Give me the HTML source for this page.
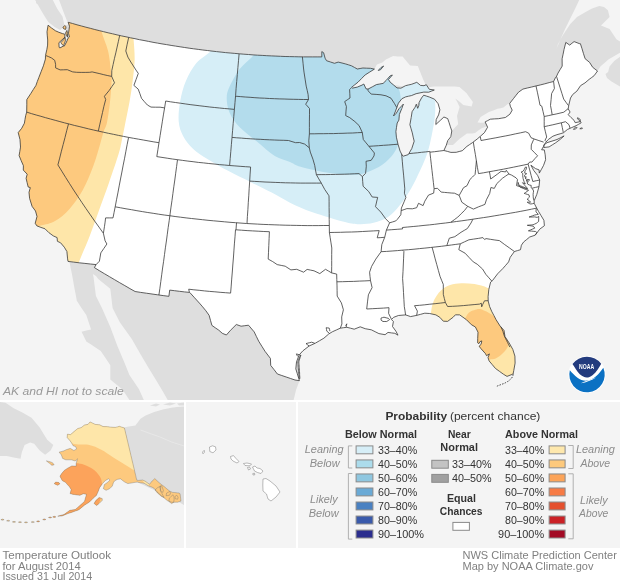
<!DOCTYPE html>
<html><head><meta charset="utf-8"><title>Temperature Outlook for August 2014</title><style>
*{margin:0;padding:0;box-sizing:border-box}
html,body{width:620px;height:585px;background:#fff;overflow:hidden}
body{position:relative;font-family:"Liberation Sans",sans-serif;color:#333}
svg{position:absolute;display:block}
.map{left:0;top:0}
.ak{left:0;top:402px}
.hi{left:186px;top:402px}
.nts{font-family:"Liberation Sans",sans-serif;font-style:italic;font-size:10.75px;fill:#999}
.leg{left:298px;top:402px}
.foot{left:0;top:548px}
svg text{font-family:"Liberation Sans",sans-serif}
.t{position:absolute;white-space:nowrap;line-height:1}
.b{font-weight:bold;color:#333}
.it{font-style:italic;color:#8a8a8a}
.sw{position:absolute;width:18px;height:9px;border:1px solid #8c8c8c}
</style></head>
<body>
<svg class="map" width="620" height="400" viewBox="0 0 620 400">
<defs><clipPath id="usc"><path d="M48.1 25.2L51.4 27.9L55.5 30.8L58.9 32.3L62.5 33.6L64.8 34.2L64.9 37.2L58.9 42.7L59.1 47.1L59.8 48.0L63.3 46.1L64.3 46.1L66.5 42.0L68.1 38.1L69.4 37.0L68.5 33.2L69.0 29.7L69.5 26.2L68.2 22.3L72.6 23.5L77.0 24.8L81.5 26.0L85.9 27.2L90.3 28.3L94.8 29.5L99.2 30.6L103.7 31.7L108.1 32.8L112.6 33.8L117.1 34.9L121.5 35.9L126.0 36.8L130.5 37.8L135.0 38.7L139.5 39.7L144.0 40.5L148.5 41.4L153.0 42.3L157.5 43.1L162.0 43.9L166.5 44.6L171.1 45.4L175.6 46.1L180.1 46.8L184.7 47.5L189.2 48.2L193.7 48.8L198.3 49.4L202.8 50.0L207.4 50.5L212.0 51.1L216.5 51.6L221.1 52.1L225.6 52.6L230.2 53.0L234.8 53.4L239.3 53.8L243.9 54.2L248.5 54.5L253.1 54.9L257.6 55.2L262.2 55.4L266.8 55.7L271.4 55.9L275.9 56.1L280.5 56.3L285.1 56.5L289.7 56.6L294.3 56.7L298.9 56.8L303.5 56.9L308.0 56.9L312.6 56.9L317.2 56.9L321.8 56.9L321.8 51.6L323.6 52.7L325.1 58.2L326.5 60.7L330.5 62.0L334.5 63.3L338.2 62.1L342.0 63.0L345.8 64.0L348.7 64.9L351.5 65.8L354.4 67.4L357.3 69.0L360.1 68.5L362.9 68.0L366.7 68.2L370.5 68.3L374.4 69.1L369.8 72.0L365.2 74.9L361.6 78.5L358.0 82.2L354.7 84.8L351.5 87.4L352.5 88.1L357.3 87.1L362.0 85.1L363.8 84.0L366.0 88.8L368.0 89.1L372.2 86.9L376.4 84.6L379.7 84.0L383.1 83.4L386.2 80.4L390.1 75.9L392.4 75.0L388.5 79.5L390.2 82.2L393.6 85.0L397.0 87.9L400.9 88.2L405.5 85.7L408.3 85.0L411.2 84.4L414.0 83.4L416.8 82.3L420.5 85.4L424.0 85.7L426.3 84.7L429.3 89.3L434.3 90.0L431.5 91.1L428.7 92.2L423.8 92.1L419.9 92.9L416.1 93.7L411.4 95.6L408.5 96.2L405.6 96.9L401.9 98.7L398.4 103.2L396.8 107.6L395.2 111.9L393.5 116.0L396.3 113.2L398.9 108.8L403.4 104.1L401.8 108.5L399.4 114.4L398.9 120.1L397.2 123.0L396.5 127.3L395.9 131.6L396.4 137.2L398.0 144.2L400.1 151.1L402.1 155.1L403.2 156.2L408.3 154.6L411.8 148.5L414.2 141.2L413.2 137.1L412.3 132.9L411.1 128.8L409.9 124.7L411.2 117.5L412.1 111.7L415.1 107.2L416.3 104.2L417.7 108.3L418.9 105.3L419.1 102.5L421.5 98.0L423.7 95.2L426.5 96.1L429.3 97.0L434.5 99.2L438.1 103.7L439.9 109.8L438.6 114.9L436.2 119.5L435.8 124.5L440.3 120.4L443.9 117.0L447.7 118.6L449.1 122.7L450.4 126.8L451.8 130.9L450.8 136.7L447.7 140.7L446.3 145.2L443.9 150.5L447.4 151.4L450.9 152.4L456.2 152.3L459.2 151.5L462.3 150.7L466.9 146.4L469.7 144.5L472.5 142.6L477.2 139.0L480.8 135.9L484.4 132.7L487.6 127.2L485.1 121.9L487.7 120.6L490.3 119.2L494.3 118.9L498.4 118.7L501.9 118.1L505.4 117.5L509.9 114.2L512.2 110.1L510.3 106.2L509.7 103.4L513.7 98.3L516.1 95.2L518.5 92.2L522.9 89.1L527.3 88.0L531.7 87.0L536.1 85.9L540.5 84.9L544.8 83.8L549.2 82.6L553.6 81.5L555.6 77.3L556.5 76.4L558.0 73.1L560.1 69.6L562.2 66.1L562.1 58.8L563.1 54.2L564.0 49.6L565.8 42.4L569.7 45.1L571.9 43.3L574.1 41.6L579.3 43.6L580.4 43.7L582.0 48.7L583.5 53.7L585.1 58.7L589.6 62.4L592.7 67.3L597.5 71.0L594.2 75.6L591.7 77.5L589.1 79.4L585.0 82.9L580.6 85.6L576.9 91.1L572.7 94.5L570.5 98.0L568.8 105.1L568.2 108.9L570.1 112.0L568.2 114.7L571.1 117.6L574.1 120.4L575.2 122.7L580.3 121.6L580.2 119.4L577.6 117.7L577.4 118.8L579.4 120.4L581.2 122.8L578.6 124.3L576.0 125.7L571.2 127.8L567.4 129.5L563.4 132.8L560.1 133.8L556.9 134.7L552.9 136.2L548.3 139.5L545.8 142.3L543.8 145.2L543.5 146.4L541.6 149.8L544.3 149.9L545.2 154.8L545.6 159.7L543.6 165.3L541.5 169.2L539.3 173.1L539.1 169.9L535.5 168.6L530.9 165.2L533.7 170.4L537.6 175.4L539.7 180.0L539.0 186.6L536.8 194.4L534.2 200.7L534.2 203.3L536.7 208.1L538.7 211.7L540.8 215.2L543.9 220.3L544.4 225.7L539.7 229.2L535.2 235.2L529.7 237.0L526.7 239.5L523.7 241.9L521.4 245.2L520.5 249.7L517.5 250.6L514.4 251.5L510.2 257.3L508.6 261.9L505.7 265.3L502.7 268.7L497.6 273.8L492.7 280.3L490.6 282.1L488.8 289.5L488.1 296.7L488.2 301.0L489.6 306.5L491.9 311.8L494.0 315.7L496.0 319.6L500.1 326.1L504.0 330.4L505.0 336.6L509.2 343.0L512.8 349.4L514.9 356.1L515.1 363.1L513.8 370.4L513.1 374.0L507.0 376.4L503.4 374.2L499.4 371.3L495.4 368.4L492.3 364.7L489.1 360.9L488.0 357.6L489.4 353.9L486.5 355.7L485.5 353.7L481.0 348.7L479.1 346.2L481.0 344.5L481.8 340.9L480.0 341.6L478.8 343.7L477.7 342.9L477.7 338.6L478.0 332.2L475.4 327.0L471.4 324.7L466.4 319.7L459.7 314.9L455.4 314.8L453.2 317.2L447.6 321.4L443.3 321.2L439.8 317.3L435.9 314.9L429.7 313.5L424.8 313.2L420.7 314.3L416.5 315.4L410.6 316.6L405.6 314.9L402.0 315.2L398.4 315.5L393.7 317.3L391.4 319.5L393.4 321.5L392.5 326.5L395.9 331.2L398.0 335.2L394.8 333.3L391.4 332.9L388.0 332.4L385.1 334.7L378.9 333.6L375.1 331.7L371.3 329.8L365.2 328.7L360.2 326.8L354.2 329.2L350.5 328.2L346.9 327.3L343.5 327.7L340.2 328.2L336.3 330.0L332.3 331.8L328.7 334.0L323.9 338.2L319.6 340.7L315.3 343.2L309.1 346.0L302.9 350.8L299.1 355.0L296.5 361.9L295.8 368.9L297.3 373.7L298.8 378.6L299.4 380.7L295.0 380.0L290.6 378.5L286.2 377.0L281.8 375.5L277.4 374.0L274.1 369.7L270.7 365.4L270.4 358.4L265.0 351.3L261.8 346.2L258.7 341.2L256.4 336.5L254.2 331.9L248.5 325.2L244.8 325.7L241.1 326.2L236.3 324.5L230.4 330.4L226.4 335.0L222.3 333.3L218.8 330.2L215.3 327.8L211.9 325.4L210.5 320.4L209.1 315.3L205.9 310.8L202.7 306.9L199.4 303.1L194.6 297.8L189.8 292.5L189.4 292.4L184.5 291.9L179.5 291.3L174.6 290.7L169.7 290.1L168.9 296.3L163.2 295.6L157.6 294.8L152.0 294.0L146.3 293.2L140.7 292.4L135.1 291.5L129.9 288.6L124.8 285.6L119.7 282.7L114.6 279.7L109.5 276.7L104.4 273.7L99.4 270.7L94.4 267.6L96.1 264.6L90.5 264.0L84.9 263.4L79.2 262.8L73.6 262.1L68.0 261.4L67.6 258.9L66.9 251.5L64.3 247.2L60.6 242.8L57.4 241.3L57.1 237.6L53.3 235.9L48.8 232.6L45.0 228.8L40.9 227.4L36.9 225.9L35.2 223.3L37.0 216.5L35.5 211.0L32.1 206.4L29.6 198.4L29.0 192.3L30.3 187.6L28.2 187.0L27.1 182.6L26.1 178.3L27.2 174.2L23.3 170.1L23.4 165.7L21.2 160.7L19.1 155.6L19.8 151.4L20.5 147.1L20.0 139.6L18.2 132.6L21.7 128.3L24.4 123.2L25.0 119.4L25.7 115.5L26.7 112.1L26.8 104.8L26.8 99.6L30.8 93.5L33.3 89.5L35.9 85.5L37.3 81.5L38.8 77.6L41.1 71.7L43.4 65.8L45.4 59.1L45.5 55.4L46.9 49.3L47.6 45.1L47.7 40.0L47.3 35.9L47.0 31.8L48.1 25.2ZM543.8 147.5L549.1 146.9L552.4 144.8L555.6 142.8L560.2 139.4L564.1 135.9L559.9 138.1L557.0 139.5L554.0 140.5L551.0 141.4L547.0 142.7L544.2 144.8ZM67.5 37.2L67.0 36.3L66.4 35.4L66.0 34.2L65.6 33.0L66.2 31.8L66.8 30.5L67.1 31.3L67.3 32.1L67.4 33.6L67.5 35.0ZM64.9 37.2L65.3 38.4L65.7 39.6L65.4 40.5L65.2 41.4L64.9 42.2L64.5 43.3L64.0 44.4L63.5 45.5L63.0 45.1L62.4 44.7L61.9 44.3L61.4 43.4L60.9 42.5L61.8 41.6L62.7 40.7L63.7 39.7ZM65.7 29.4L65.1 29.3L64.4 29.1L63.8 28.9L63.4 28.1L62.9 27.2L63.9 26.4L64.8 25.6L65.4 26.1L66.0 26.7ZM573.5 129.4L574.1 128.6L574.7 127.9L575.3 127.1L576.2 127.4L577.1 127.6L576.5 128.2L575.8 128.9ZM579.8 128.7L580.6 128.3L581.5 127.9L582.5 128.3L581.9 128.6L581.2 128.8ZM383.6 66.0L382.9 66.4L382.3 66.8L381.6 67.2L380.9 67.6L380.0 68.5L379.1 69.5L378.3 70.5L379.0 70.2L379.8 70.0L380.6 69.7ZM299.2 378.6L299.1 377.2L299.0 375.8L298.8 374.5L298.7 373.1L298.6 371.7L298.5 370.3L298.3 368.9L298.2 367.5L298.1 366.1L298.0 364.7L297.9 363.3L297.8 361.9L298.3 360.5L298.8 359.1L299.3 357.8L299.9 356.4L300.4 355.0L300.9 355.0L300.5 356.4L300.0 357.8L299.6 359.2L299.2 360.5L298.8 361.9L298.9 363.3L299.0 364.7L299.1 366.1L299.2 367.5L299.3 368.9L299.4 370.3L299.5 371.7L299.6 373.1L299.6 374.5L299.7 375.9L299.8 377.2L299.9 378.6Z"/></clipPath></defs>
<rect width="620" height="400" fill="#dedede"/>
<path d="M-69.8 -226.5L-68.4 -221.8L-66.8 -217.1L-65.3 -212.4L-63.7 -207.7L-62.1 -203.0L-60.4 -198.3L-58.7 -193.5L-57.0 -188.8L-55.3 -184.0L-53.5 -179.3L-51.7 -174.5L-49.8 -169.7L-47.9 -164.9L-46.0 -160.2L-44.0 -155.4L-42.0 -150.6L-40.0 -145.7L-37.9 -140.9L-35.8 -136.1L-33.6 -131.3L-31.4 -126.5L-29.2 -121.6L-27.0 -116.8L-24.7 -112.0L-22.3 -107.1L-19.9 -102.3L-17.5 -97.4L-15.1 -92.6L-12.6 -87.8L-10.0 -82.9L-7.5 -78.1L-4.9 -73.2L-2.2 -68.4L0.5 -63.5L3.2 -58.7L6.0 -53.9L8.8 -49.0L11.6 -44.2L14.5 -39.4L17.5 -34.5L20.4 -29.7L23.4 -24.9L26.5 -20.1L28.9 -13.4L31.4 -6.7L34.4 -1.3L37.5 4.1L40.6 9.4L43.7 14.8L46.0 18.4L48.3 22.1L51.5 24.5L54.7 26.9L57.4 28.5L60.1 30.0L62.0 28.4L66.2 27.4L67.3 32.1L68.5 36.7L66.8 42.8L65.0 48.8L64.6 54.0L64.1 59.2L63.7 64.4L66.5 72.4L69.4 80.5L70.5 88.0L71.6 95.6L72.8 103.2L74.0 110.7L75.2 118.3L76.5 125.9L77.8 133.5L79.2 141.1L80.6 148.7L82.1 156.3L81.7 163.5L81.3 170.6L80.9 177.8L80.5 185.0L80.2 192.2L79.8 199.4L79.5 206.5L79.2 213.7L79.0 220.9L78.7 228.1L78.5 235.3L78.2 242.4L78.0 249.6L73.0 255.5L68.0 261.4L69.6 262.4L70.8 268.4L72.0 274.4L73.2 281.0L74.3 287.6L75.6 294.1L76.8 300.7L81.5 307.9L86.3 315.0L88.7 322.2L91.1 329.4L86.3 330.6L81.5 331.8L83.9 336.6L86.3 341.4L91.1 344.6L95.9 347.8L100.7 350.9L105.5 358.1L110.3 365.3L110.3 370.1L110.3 374.8L110.3 379.6L114.2 382.8L118.2 386.0L122.2 389.2L125.8 394.6L129.4 400.0L131.2 405.0L133.0 410.0L132.7 416.6L132.5 423.3L132.2 429.9L132.0 436.5L131.7 443.1L131.5 449.7L124.6 450.0L117.6 450.3L110.7 450.6L103.8 450.8L96.8 451.0L89.9 451.1L82.9 451.3L76.0 451.3L69.0 451.4L62.0 451.4L55.0 451.3L48.0 451.2L41.0 451.1L34.0 451.0L27.0 450.8L20.0 450.5L13.0 450.3L5.9 450.0L-1.1 449.6L-8.1 449.2L-15.2 448.8L-22.2 448.3L-29.3 447.8L-36.3 447.2L-43.4 446.7L-50.4 446.0L-57.5 445.4L-64.6 444.7L-71.6 443.9L-78.7 443.1L-85.8 442.3L-92.9 441.4L-99.9 440.5L-107.0 439.6L-114.1 438.6L-121.2 437.6L-128.2 436.5L-135.3 435.4L-142.4 434.2L-149.5 433.1L-156.6 431.8L-163.7 430.6L-170.7 429.3L-177.8 427.9L-184.9 426.5L-192.0 425.1L-199.1 423.6L-206.1 422.1L-213.2 420.6L-220.3 419.0L-227.3 417.3L-231.2 408.4L-235.0 399.4L-238.7 390.4L-242.3 381.4L-245.8 372.4L-249.2 363.4L-252.6 354.3L-255.8 345.3L-259.0 336.2L-262.1 327.1L-265.1 318.0L-268.0 308.8L-270.8 299.7L-273.6 290.5L-276.2 281.4L-278.8 272.2L-281.3 263.1L-283.7 253.9L-286.0 244.7L-288.2 235.5L-290.4 226.3L-292.4 217.1L-294.4 207.9L-296.3 198.8L-298.1 189.6L-299.8 180.4L-301.4 171.2L-303.0 162.0L-304.4 152.8L-305.8 143.7ZM597.5 71.0L600.6 66.3L604.7 62.7L608.7 59.2L613.1 56.8L617.4 54.3L621.7 51.8L626.1 49.5L630.5 47.2L634.8 44.8L639.2 42.5L643.5 40.1L647.8 37.7L652.1 35.3L656.4 32.8L660.9 31.0L665.4 29.2L669.9 27.3L674.4 25.4L678.9 23.5L683.4 21.6L687.8 19.6L692.3 17.6L696.7 15.6L701.1 13.6L705.6 11.6L710.0 9.5L714.4 7.4L718.8 5.3L723.1 3.1L727.5 1.0L731.8 -1.2L736.2 -3.4L740.5 -5.7L744.8 -7.9L748.1 -1.7L751.4 4.5L754.6 10.7L757.9 16.9L761.2 23.1L764.5 29.3L767.7 35.6L771.0 41.8L774.3 48.1L777.6 54.3L780.9 60.6L784.2 66.8L787.5 73.1L790.8 79.3L794.1 85.6L797.4 91.8L800.7 98.1L803.9 104.4L807.2 110.6L810.5 116.9L813.8 123.1L817.1 129.4L820.4 135.6L823.7 141.9L827.0 148.1L830.3 154.4L833.6 160.6L836.8 166.8L840.1 173.0L843.4 179.3L846.7 185.5L849.9 191.7L853.2 197.9L856.4 204.1L859.7 210.3L863.0 216.5L866.2 222.6L869.4 228.8L872.7 234.9L875.9 241.1L879.2 247.2L882.4 253.4L885.6 259.5L888.8 265.6L892.0 271.7L895.2 277.8L898.4 283.8L901.6 289.9L904.8 296.0L908.0 302.0L911.2 308.0L914.3 314.0L908.3 317.2L902.3 320.3L896.2 323.4L890.2 326.4L884.1 329.5L878.0 332.4L871.9 335.4L865.8 338.3L859.6 341.2L853.5 344.1L847.3 346.9L841.1 349.7L834.9 352.4L828.7 355.2L822.5 357.9L816.2 360.5L810.0 363.2L803.7 365.8L797.4 368.3L791.1 370.8L784.8 373.3L778.5 375.8L772.1 378.2L765.8 380.6L759.4 383.0L753.1 385.3L746.7 387.6L740.3 389.9L733.9 392.1L727.4 394.3L721.0 396.5L714.6 398.6L708.1 400.7L701.6 402.7L695.2 404.8L688.7 406.8L682.2 408.7L675.7 410.6L669.1 412.5L662.6 414.4L656.1 416.2L649.5 418.0L643.0 419.7L636.4 421.5L629.8 423.1L623.2 424.8L616.7 426.4L610.1 428.0L603.4 429.5L596.8 431.0L590.2 432.5L583.6 433.9L576.9 435.3L570.3 436.7L563.6 438.0L557.0 439.3L550.3 440.6L543.6 441.8L536.9 443.0L530.3 444.2L523.6 445.3L516.9 446.4L510.2 447.5L503.5 448.5L496.7 449.5L490.0 450.4L483.3 451.3L476.6 452.2L469.8 453.0L463.1 453.8L456.3 454.6L449.6 455.3L442.8 456.0L436.1 456.7L429.3 457.3L422.6 457.9L415.8 458.5L409.0 459.0L402.3 459.5L395.5 459.9L388.7 460.3L381.9 460.7L375.2 461.1L368.4 461.4L361.6 461.6L354.8 461.9L348.0 462.1L341.3 462.2L334.5 462.4L327.7 462.5L320.9 462.5L314.1 462.5L307.3 462.5L300.5 462.5L297.9 455.7L295.3 448.8L293.4 441.9L291.5 435.1L291.3 428.2L291.1 421.3L291.9 414.5L292.6 407.6L293.4 400.7L294.8 395.2L296.1 389.7L297.8 385.2L299.4 380.7L298.6 375.0L297.8 369.3L297.0 363.6L296.2 357.9L295.4 352.1L301.7 347.5L307.9 342.9L314.0 338.3L320.2 333.6L326.2 328.9L332.2 324.1L338.2 319.3L344.1 314.5L349.9 309.6L355.7 304.8L361.5 299.8L367.2 294.9L372.9 289.9L378.5 284.9L384.0 279.8L389.6 275.9L395.1 272.0L400.6 268.0L406.1 264.0L411.5 260.0L416.9 256.0L422.3 251.9L427.6 247.8L432.8 243.7L438.1 239.5L443.2 235.4L448.4 231.2L453.5 226.9L458.5 222.7L463.6 218.4L468.5 214.1L473.5 209.8L478.4 205.4L483.2 201.0L488.0 196.7L492.7 191.4L497.2 186.1L501.8 180.7L506.2 175.4L510.6 170.0L515.0 164.6L519.3 159.2L523.6 153.8L527.8 148.4L532.0 142.9L536.1 137.5L540.1 132.0L544.1 126.5L548.1 121.0L552.0 115.5L555.9 110.0L559.5 103.8L563.1 97.6L566.6 91.5L570.1 85.3L573.5 79.1L576.9 72.9L580.2 66.7L583.5 65.7L586.7 64.7ZM425.8 84.8L423.2 79.5L420.5 72.8L417.8 66.1L414.0 65.8L410.1 65.6L406.3 61.1L402.6 56.6L397.8 56.4L393.1 56.1L389.5 57.8L385.9 59.5L382.4 62.6L379.6 63.5L376.9 64.4L374.4 69.1L369.8 72.0L365.2 74.9L361.6 78.5L358.0 82.2L354.7 84.8L351.5 87.4L354.4 88.3L357.4 89.2L362.2 89.7L367.1 90.1L371.8 89.0L376.6 87.8L381.4 86.6L386.1 85.4L390.8 84.2L395.8 85.2L400.7 86.1L405.6 87.0L410.6 87.9L415.1 87.9L419.7 87.9L424.2 87.8ZM423.8 92.1L419.9 92.9L416.1 93.7L411.4 95.6L408.5 96.2L405.6 96.9L401.9 98.7L398.4 103.2L396.8 107.6L395.2 111.9L393.5 116.0L394.3 121.2L395.1 126.4L395.9 131.6L396.4 137.2L398.0 144.2L400.1 151.1L402.1 155.1L403.2 156.2L408.3 154.6L411.8 148.5L414.2 141.2L413.2 137.1L412.3 132.9L411.1 128.8L409.9 124.7L411.2 117.5L412.1 111.7L415.1 107.2L416.3 104.2L419.1 102.5L421.5 98.0L423.7 95.2ZM423.7 95.2L426.5 96.1L429.3 97.0L434.5 99.2L438.1 103.7L439.9 109.8L438.6 114.9L436.2 119.5L435.8 124.5L440.3 120.4L443.9 117.0L447.7 118.6L449.1 122.7L450.4 126.8L451.8 130.9L455.0 127.5L458.2 124.2L457.6 120.0L457.0 115.9L458.3 111.4L459.6 106.9L457.5 102.6L455.3 98.4L459.3 101.6L463.3 104.9L467.5 105.7L471.6 106.4L472.9 101.9L469.6 97.5L466.4 93.0L462.9 90.1L459.5 87.1L454.5 86.5L449.5 86.5L444.6 86.5L439.7 86.5L434.8 86.5L431.9 86.8L429.1 87.2L426.3 84.7L429.3 89.3L434.3 90.0L431.5 91.1L428.7 92.2L423.8 92.1ZM443.9 150.5L447.4 151.4L450.9 152.4L456.2 152.3L459.2 151.5L462.3 150.7L466.9 146.4L469.7 144.5L472.5 142.6L477.2 139.0L480.8 135.9L484.4 132.7L487.6 127.2L486.5 126.6L481.6 128.2L478.3 130.6L475.1 132.9L472.1 133.4L466.9 133.6L463.2 136.3L459.4 139.0L456.2 142.0L453.0 144.9L447.8 145.0L446.3 145.2ZM485.1 121.9L487.7 120.6L490.3 119.2L494.3 118.9L498.4 118.7L501.9 118.1L505.4 117.5L509.9 114.2L512.2 110.1L510.3 106.2L509.7 103.4L507.8 103.9L503.4 107.6L500.5 108.2L497.5 108.8L493.2 110.4L488.9 111.9L484.8 114.4L480.6 117.0L477.5 122.5L480.6 122.7L483.7 122.8ZM451.8 130.9L451.8 136.6L448.3 141.3L446.3 145.2L447.7 140.7L450.8 136.7Z" fill="#f4f4f4"/>
<path d="M92.8 274.0L93.5 276.8L95.9 295.9L101.9 307.9L110.3 327.0L117.4 346.1L124.6 362.9L129.4 374.9L139.0 389.2L143.8 400.0L146.0 404.0L170.0 404.0L167.7 400.0L162.9 391.6L155.7 379.6L148.5 367.7L141.4 355.7L131.8 339.0L119.8 322.2L112.6 307.9L110.3 288.7L98.3 279.1L96.0 276.0Z" fill="#f4f4f4"/>
<path d="M36.1 -1.0L36.1 3.2L39.4 5.2L45.8 12.9L52.3 19.4L58.7 24.5L64.5 25.8L62.6 16.8L57.4 9.0L52.3 -1.0Z" fill="#dedede"/>
<path d="M52.3 -1.0L57.4 9.0L62.6 16.8L64.5 25.8L68.4 24.5L63.9 12.9L58.7 -1.0Z" fill="#f4f4f4"/>
<path d="M579.7 -1.0L575.0 9.0L569.5 20.0L565.1 29.0L561.5 37.0L558.0 45.2L556.5 49.0L558.0 44.0L563.0 35.0L570.3 23.9L577.0 17.0L585.6 12.0L592.0 8.5L599.3 6.0L604.0 7.0L607.9 10.3L609.6 17.1L601.0 25.6L609.6 29.0L616.4 39.3L621.0 42.0L621.0 -1.0Z" fill="#f4f4f4"/>
<path d="M605.5 74.0L608.1 72.0L609.5 66.6L614.2 61.1L621.0 56.0L621.0 87.0L611.5 81.6L607.0 78.0Z" fill="#dedede"/>
<path d="M48.1 25.2L51.4 27.9L55.5 30.8L58.9 32.3L62.5 33.6L64.8 34.2L64.9 37.2L58.9 42.7L59.1 47.1L59.8 48.0L63.3 46.1L64.3 46.1L66.5 42.0L68.1 38.1L69.4 37.0L68.5 33.2L69.0 29.7L69.5 26.2L68.2 22.3L72.6 23.5L77.0 24.8L81.5 26.0L85.9 27.2L90.3 28.3L94.8 29.5L99.2 30.6L103.7 31.7L108.1 32.8L112.6 33.8L117.1 34.9L121.5 35.9L126.0 36.8L130.5 37.8L135.0 38.7L139.5 39.7L144.0 40.5L148.5 41.4L153.0 42.3L157.5 43.1L162.0 43.9L166.5 44.6L171.1 45.4L175.6 46.1L180.1 46.8L184.7 47.5L189.2 48.2L193.7 48.8L198.3 49.4L202.8 50.0L207.4 50.5L212.0 51.1L216.5 51.6L221.1 52.1L225.6 52.6L230.2 53.0L234.8 53.4L239.3 53.8L243.9 54.2L248.5 54.5L253.1 54.9L257.6 55.2L262.2 55.4L266.8 55.7L271.4 55.9L275.9 56.1L280.5 56.3L285.1 56.5L289.7 56.6L294.3 56.7L298.9 56.8L303.5 56.9L308.0 56.9L312.6 56.9L317.2 56.9L321.8 56.9L321.8 51.6L323.6 52.7L325.1 58.2L326.5 60.7L330.5 62.0L334.5 63.3L338.2 62.1L342.0 63.0L345.8 64.0L348.7 64.9L351.5 65.8L354.4 67.4L357.3 69.0L360.1 68.5L362.9 68.0L366.7 68.2L370.5 68.3L374.4 69.1L369.8 72.0L365.2 74.9L361.6 78.5L358.0 82.2L354.7 84.8L351.5 87.4L352.5 88.1L357.3 87.1L362.0 85.1L363.8 84.0L366.0 88.8L368.0 89.1L372.2 86.9L376.4 84.6L379.7 84.0L383.1 83.4L386.2 80.4L390.1 75.9L392.4 75.0L388.5 79.5L390.2 82.2L393.6 85.0L397.0 87.9L400.9 88.2L405.5 85.7L408.3 85.0L411.2 84.4L414.0 83.4L416.8 82.3L420.5 85.4L424.0 85.7L426.3 84.7L429.3 89.3L434.3 90.0L431.5 91.1L428.7 92.2L423.8 92.1L419.9 92.9L416.1 93.7L411.4 95.6L408.5 96.2L405.6 96.9L401.9 98.7L398.4 103.2L396.8 107.6L395.2 111.9L393.5 116.0L396.3 113.2L398.9 108.8L403.4 104.1L401.8 108.5L399.4 114.4L398.9 120.1L397.2 123.0L396.5 127.3L395.9 131.6L396.4 137.2L398.0 144.2L400.1 151.1L402.1 155.1L403.2 156.2L408.3 154.6L411.8 148.5L414.2 141.2L413.2 137.1L412.3 132.9L411.1 128.8L409.9 124.7L411.2 117.5L412.1 111.7L415.1 107.2L416.3 104.2L417.7 108.3L418.9 105.3L419.1 102.5L421.5 98.0L423.7 95.2L426.5 96.1L429.3 97.0L434.5 99.2L438.1 103.7L439.9 109.8L438.6 114.9L436.2 119.5L435.8 124.5L440.3 120.4L443.9 117.0L447.7 118.6L449.1 122.7L450.4 126.8L451.8 130.9L450.8 136.7L447.7 140.7L446.3 145.2L443.9 150.5L447.4 151.4L450.9 152.4L456.2 152.3L459.2 151.5L462.3 150.7L466.9 146.4L469.7 144.5L472.5 142.6L477.2 139.0L480.8 135.9L484.4 132.7L487.6 127.2L485.1 121.9L487.7 120.6L490.3 119.2L494.3 118.9L498.4 118.7L501.9 118.1L505.4 117.5L509.9 114.2L512.2 110.1L510.3 106.2L509.7 103.4L513.7 98.3L516.1 95.2L518.5 92.2L522.9 89.1L527.3 88.0L531.7 87.0L536.1 85.9L540.5 84.9L544.8 83.8L549.2 82.6L553.6 81.5L555.6 77.3L556.5 76.4L558.0 73.1L560.1 69.6L562.2 66.1L562.1 58.8L563.1 54.2L564.0 49.6L565.8 42.4L569.7 45.1L571.9 43.3L574.1 41.6L579.3 43.6L580.4 43.7L582.0 48.7L583.5 53.7L585.1 58.7L589.6 62.4L592.7 67.3L597.5 71.0L594.2 75.6L591.7 77.5L589.1 79.4L585.0 82.9L580.6 85.6L576.9 91.1L572.7 94.5L570.5 98.0L568.8 105.1L568.2 108.9L570.1 112.0L568.2 114.7L571.1 117.6L574.1 120.4L575.2 122.7L580.3 121.6L580.2 119.4L577.6 117.7L577.4 118.8L579.4 120.4L581.2 122.8L578.6 124.3L576.0 125.7L571.2 127.8L567.4 129.5L563.4 132.8L560.1 133.8L556.9 134.7L552.9 136.2L548.3 139.5L545.8 142.3L543.8 145.2L543.5 146.4L541.6 149.8L544.3 149.9L545.2 154.8L545.6 159.7L543.6 165.3L541.5 169.2L539.3 173.1L539.1 169.9L535.5 168.6L530.9 165.2L533.7 170.4L537.6 175.4L539.7 180.0L539.0 186.6L536.8 194.4L534.2 200.7L534.2 203.3L536.7 208.1L538.7 211.7L540.8 215.2L543.9 220.3L544.4 225.7L539.7 229.2L535.2 235.2L529.7 237.0L526.7 239.5L523.7 241.9L521.4 245.2L520.5 249.7L517.5 250.6L514.4 251.5L510.2 257.3L508.6 261.9L505.7 265.3L502.7 268.7L497.6 273.8L492.7 280.3L490.6 282.1L488.8 289.5L488.1 296.7L488.2 301.0L489.6 306.5L491.9 311.8L494.0 315.7L496.0 319.6L500.1 326.1L504.0 330.4L505.0 336.6L509.2 343.0L512.8 349.4L514.9 356.1L515.1 363.1L513.8 370.4L513.1 374.0L507.0 376.4L503.4 374.2L499.4 371.3L495.4 368.4L492.3 364.7L489.1 360.9L488.0 357.6L489.4 353.9L486.5 355.7L485.5 353.7L481.0 348.7L479.1 346.2L481.0 344.5L481.8 340.9L480.0 341.6L478.8 343.7L477.7 342.9L477.7 338.6L478.0 332.2L475.4 327.0L471.4 324.7L466.4 319.7L459.7 314.9L455.4 314.8L453.2 317.2L447.6 321.4L443.3 321.2L439.8 317.3L435.9 314.9L429.7 313.5L424.8 313.2L420.7 314.3L416.5 315.4L410.6 316.6L405.6 314.9L402.0 315.2L398.4 315.5L393.7 317.3L391.4 319.5L393.4 321.5L392.5 326.5L395.9 331.2L398.0 335.2L394.8 333.3L391.4 332.9L388.0 332.4L385.1 334.7L378.9 333.6L375.1 331.7L371.3 329.8L365.2 328.7L360.2 326.8L354.2 329.2L350.5 328.2L346.9 327.3L343.5 327.7L340.2 328.2L336.3 330.0L332.3 331.8L328.7 334.0L323.9 338.2L319.6 340.7L315.3 343.2L309.1 346.0L302.9 350.8L299.1 355.0L296.5 361.9L295.8 368.9L297.3 373.7L298.8 378.6L299.4 380.7L295.0 380.0L290.6 378.5L286.2 377.0L281.8 375.5L277.4 374.0L274.1 369.7L270.7 365.4L270.4 358.4L265.0 351.3L261.8 346.2L258.7 341.2L256.4 336.5L254.2 331.9L248.5 325.2L244.8 325.7L241.1 326.2L236.3 324.5L230.4 330.4L226.4 335.0L222.3 333.3L218.8 330.2L215.3 327.8L211.9 325.4L210.5 320.4L209.1 315.3L205.9 310.8L202.7 306.9L199.4 303.1L194.6 297.8L189.8 292.5L189.4 292.4L184.5 291.9L179.5 291.3L174.6 290.7L169.7 290.1L168.9 296.3L163.2 295.6L157.6 294.8L152.0 294.0L146.3 293.2L140.7 292.4L135.1 291.5L129.9 288.6L124.8 285.6L119.7 282.7L114.6 279.7L109.5 276.7L104.4 273.7L99.4 270.7L94.4 267.6L96.1 264.6L90.5 264.0L84.9 263.4L79.2 262.8L73.6 262.1L68.0 261.4L67.6 258.9L66.9 251.5L64.3 247.2L60.6 242.8L57.4 241.3L57.1 237.6L53.3 235.9L48.8 232.6L45.0 228.8L40.9 227.4L36.9 225.9L35.2 223.3L37.0 216.5L35.5 211.0L32.1 206.4L29.6 198.4L29.0 192.3L30.3 187.6L28.2 187.0L27.1 182.6L26.1 178.3L27.2 174.2L23.3 170.1L23.4 165.7L21.2 160.7L19.1 155.6L19.8 151.4L20.5 147.1L20.0 139.6L18.2 132.6L21.7 128.3L24.4 123.2L25.0 119.4L25.7 115.5L26.7 112.1L26.8 104.8L26.8 99.6L30.8 93.5L33.3 89.5L35.9 85.5L37.3 81.5L38.8 77.6L41.1 71.7L43.4 65.8L45.4 59.1L45.5 55.4L46.9 49.3L47.6 45.1L47.7 40.0L47.3 35.9L47.0 31.8L48.1 25.2ZM543.8 147.5L549.1 146.9L552.4 144.8L555.6 142.8L560.2 139.4L564.1 135.9L559.9 138.1L557.0 139.5L554.0 140.5L551.0 141.4L547.0 142.7L544.2 144.8ZM67.5 37.2L67.0 36.3L66.4 35.4L66.0 34.2L65.6 33.0L66.2 31.8L66.8 30.5L67.1 31.3L67.3 32.1L67.4 33.6L67.5 35.0ZM64.9 37.2L65.3 38.4L65.7 39.6L65.4 40.5L65.2 41.4L64.9 42.2L64.5 43.3L64.0 44.4L63.5 45.5L63.0 45.1L62.4 44.7L61.9 44.3L61.4 43.4L60.9 42.5L61.8 41.6L62.7 40.7L63.7 39.7ZM65.7 29.4L65.1 29.3L64.4 29.1L63.8 28.9L63.4 28.1L62.9 27.2L63.9 26.4L64.8 25.6L65.4 26.1L66.0 26.7ZM573.5 129.4L574.1 128.6L574.7 127.9L575.3 127.1L576.2 127.4L577.1 127.6L576.5 128.2L575.8 128.9ZM579.8 128.7L580.6 128.3L581.5 127.9L582.5 128.3L581.9 128.6L581.2 128.8ZM383.6 66.0L382.9 66.4L382.3 66.8L381.6 67.2L380.9 67.6L380.0 68.5L379.1 69.5L378.3 70.5L379.0 70.2L379.8 70.0L380.6 69.7ZM299.2 378.6L299.1 377.2L299.0 375.8L298.8 374.5L298.7 373.1L298.6 371.7L298.5 370.3L298.3 368.9L298.2 367.5L298.1 366.1L298.0 364.7L297.9 363.3L297.8 361.9L298.3 360.5L298.8 359.1L299.3 357.8L299.9 356.4L300.4 355.0L300.9 355.0L300.5 356.4L300.0 357.8L299.6 359.2L299.2 360.5L298.8 361.9L298.9 363.3L299.0 364.7L299.1 366.1L299.2 367.5L299.3 368.9L299.4 370.3L299.5 371.7L299.6 373.1L299.6 374.5L299.7 375.9L299.8 377.2L299.9 378.6Z" fill="#fff"/>
<g clip-path="url(#usc)"><path d="M215.0 40.0C200.1 43.5 213.8 47.1 210.7 51.0C207.6 54.9 200.3 58.2 196.2 63.2C192.1 68.2 188.7 74.4 186.0 80.7C183.3 87.0 181.4 94.2 180.2 101.0C179.0 107.8 178.2 115.6 178.7 121.4C179.2 127.2 180.7 131.3 183.1 135.9C185.5 140.5 189.1 145.1 193.2 149.0C197.3 152.9 202.0 155.6 207.8 159.2C213.6 162.8 220.8 166.9 228.1 170.8C235.4 174.7 244.1 178.8 251.4 182.4C258.7 186.0 265.3 189.2 271.7 192.6C278.1 196.0 283.2 199.4 290.0 202.7C296.8 206.0 303.3 209.0 312.5 212.2C321.7 215.4 337.2 220.0 345.0 222.0C352.8 224.0 354.3 224.1 359.1 224.2C363.9 224.3 368.8 224.0 373.6 222.8C378.4 221.6 383.7 219.9 388.1 217.0C392.5 214.1 395.9 210.2 399.8 205.3C403.7 200.5 408.0 193.7 411.4 187.9C414.8 182.1 417.4 176.3 420.1 170.5C422.8 164.7 425.5 158.8 427.4 153.0C429.3 147.2 430.5 141.4 431.7 135.6C432.9 129.8 434.1 123.4 434.7 118.1C435.3 112.8 435.4 108.4 435.2 103.6C434.9 98.8 434.4 94.6 433.2 89.0C432.0 83.4 431.0 76.5 428.0 70.0C425.0 63.5 423.0 55.8 415.0 50.0C407.0 44.2 399.2 38.3 380.0 35.0C360.8 31.7 327.5 29.2 300.0 30.0C272.5 30.8 229.9 36.5 215.0 40.0Z" fill="#d6eef7"/><path d="M262.0 42.0C254.4 44.8 258.0 50.0 254.3 54.5C250.6 59.0 243.8 63.8 239.7 69.1C235.6 74.4 231.8 81.7 229.6 86.5C227.4 91.3 226.7 93.7 226.7 98.1C226.7 102.5 227.4 107.8 229.6 112.7C231.8 117.6 235.1 122.4 239.7 127.2C244.3 132.0 251.3 136.9 257.2 141.7C263.1 146.5 269.3 152.6 274.8 156.0C280.3 159.4 285.7 160.2 290.0 162.0C294.3 163.8 294.5 165.0 300.6 166.8C306.7 168.6 317.7 171.3 326.5 172.6C335.3 173.9 346.4 174.9 353.3 174.8C360.2 174.7 363.0 173.6 367.8 171.9C372.6 170.2 377.9 167.8 382.3 164.7C386.7 161.5 391.1 157.4 394.0 153.0C396.9 148.6 398.6 144.3 399.8 138.5C401.0 132.7 401.2 125.8 401.2 118.1C401.2 110.3 401.5 99.3 399.8 92.0C398.1 84.7 394.6 80.2 391.0 74.5C387.4 68.8 384.8 62.9 378.0 58.0C371.2 53.1 363.0 48.3 350.0 45.0C337.0 41.7 314.7 38.5 300.0 38.0C285.3 37.5 269.6 39.2 262.0 42.0Z" fill="#b3dcec"/><path d="M-20.0 0.0C5.2 -45.8 105.4 8.4 131.0 15.0C156.6 21.6 133.0 31.8 133.6 39.5C134.2 47.2 134.8 54.0 134.6 61.0C134.4 68.0 133.4 74.7 132.6 81.5C131.8 88.3 130.7 95.2 129.5 102.0C128.3 108.8 126.7 115.9 125.4 122.6C124.1 129.3 122.6 136.8 121.5 142.0C120.4 147.2 120.7 147.2 118.6 154.0C116.5 160.8 112.2 173.5 109.0 182.7C105.8 191.9 102.7 200.2 99.5 209.0C96.3 217.8 93.3 226.6 89.9 235.4C86.5 244.2 82.1 253.9 79.1 261.7C76.1 269.5 88.5 277.3 72.0 282.0C55.5 286.7 -4.7 337.0 -20.0 290.0C-35.3 243.0 -45.2 45.8 -20.0 0.0Z" fill="#fee6a9"/><path d="M-20.0 0.0C-0.3 -36.3 77.8 6.8 98.0 12.0C118.2 17.2 99.7 24.8 101.4 31.3C103.1 37.8 106.4 44.1 108.0 50.8C109.6 57.5 110.4 66.2 111.0 71.3C111.6 76.4 111.8 76.4 111.6 81.5C111.4 86.6 110.8 95.2 110.0 102.0C109.2 108.8 108.1 117.6 107.0 122.6C105.9 127.6 104.7 128.4 103.5 132.0C102.3 135.6 101.7 138.7 100.0 144.4C98.3 150.1 96.2 158.4 93.3 166.0C90.4 173.6 86.8 182.8 82.8 190.0C78.8 197.2 74.1 203.8 69.5 209.0C64.9 214.2 60.0 218.2 55.0 221.0C50.0 223.8 46.3 224.3 39.6 225.8C32.9 227.3 24.9 229.3 15.0 230.0C5.1 230.7 -14.2 268.3 -20.0 230.0C-25.8 191.7 -39.7 36.3 -20.0 0.0Z" fill="#fdc97e"/><path d="M445.0 335.0C438.8 321.0 434.8 320.1 432.5 316.0C430.2 311.9 431.0 313.0 431.3 310.4C431.6 307.8 432.5 303.4 434.1 300.1C435.7 296.8 438.0 293.2 440.7 290.7C443.4 288.2 446.7 286.2 450.1 285.0C453.6 283.8 457.3 283.3 461.4 283.2C465.5 283.1 470.1 283.3 474.5 284.1C478.9 284.9 483.8 286.2 487.7 287.9C491.6 289.5 492.6 288.6 498.0 294.0C503.4 299.4 513.0 302.3 520.0 320.0C527.0 337.7 548.3 386.7 540.0 400.0C531.7 413.3 485.8 410.8 470.0 400.0C454.2 389.2 451.2 349.0 445.0 335.0Z" fill="#fee6a9"/><path d="M467.0 315.1C469.4 311.0 473.6 310.3 476.4 309.5C479.2 308.7 480.8 309.1 483.9 310.4C487.0 311.6 491.8 314.0 495.2 317.0C498.6 320.0 502.4 324.2 504.6 328.3C506.8 332.4 508.1 338.1 508.4 341.5C508.7 344.9 508.1 346.5 506.5 349.0C504.9 351.5 501.4 354.8 499.0 356.5C496.6 358.2 494.9 359.0 492.4 359.3C489.9 359.6 487.3 359.6 483.9 358.4C480.5 357.2 475.6 356.1 472.0 352.0C468.4 347.9 462.8 340.1 462.0 334.0C461.2 327.9 464.6 319.2 467.0 315.1Z" fill="#fdc97e"/></g>
<path d="M46.0 55.6L48.7 56.7L51.4 57.9L54.7 60.3L55.6 64.3L55.6 67.9L60.1 69.9L63.7 69.8L67.3 69.7L70.0 70.8L72.7 71.9L76.7 72.3L81.2 72.4L85.8 72.4L89.8 72.3L92.1 71.9L96.0 72.8L99.9 73.7L103.8 74.7L107.8 75.6L111.7 76.4M111.7 76.4L111.8 70.5L113.1 64.6L114.4 58.7L115.8 52.9L117.1 47.1L118.4 41.3L119.7 35.4M111.7 76.4L114.5 82.8L111.9 86.5L109.3 90.3L104.4 96.3L105.7 99.5L103.9 106.3L102.5 112.5L101.1 118.7L99.7 124.9L98.3 131.1M26.7 112.1L31.4 113.6L36.2 115.0L40.9 116.3L45.6 117.7L50.4 119.0L55.2 120.3L59.9 121.6L64.7 122.9L69.5 124.1L74.3 125.4L79.1 126.5L83.9 127.7L88.7 128.9L93.5 130.0L98.3 131.1M68.5 123.9L66.7 130.7L65.0 137.5L63.2 144.4L61.4 151.2L59.7 158.1L57.9 164.9L61.8 171.2L65.7 177.5L69.6 183.7L73.6 190.0L77.7 196.2L81.8 202.4L86.0 208.6L90.3 214.8L94.6 221.0L99.0 227.1L103.4 233.3M103.4 233.3L105.1 240.8L106.9 244.0L103.8 248.5L100.8 252.9L100.1 257.1L99.4 261.2L96.1 264.6M98.3 131.1L103.4 132.2L108.4 133.3L113.4 134.3L118.5 135.4L123.5 136.4L128.6 137.4L133.6 138.3L138.7 139.2L143.8 140.1L148.9 141.0L153.9 141.9L159.0 142.7M128.6 137.4L127.2 144.3L125.9 151.2L124.6 158.2L123.2 165.1L121.9 172.0L120.5 179.0L119.2 185.9L117.9 192.9L116.5 199.8L115.2 206.8M115.2 206.8L114.1 212.3L113.0 217.9L109.3 217.9L105.6 217.9L105.1 222.1L104.5 226.3L103.4 233.3M128.7 37.4L127.2 44.2L125.8 51.0L127.9 57.1L130.8 62.0L133.4 66.0L136.0 70.1L138.3 73.4L136.1 79.4L133.9 85.4L138.2 89.1L139.9 93.7L141.5 98.3L144.4 101.7L147.4 105.0L151.0 107.1L155.6 107.2L160.1 107.2L164.6 107.9M165.7 101.0L164.6 107.9L163.4 114.9L162.3 121.8L161.2 128.8L160.1 135.7L159.0 142.7L157.9 149.7L156.8 156.6L162.0 157.4L167.2 158.2L172.4 159.0L177.5 159.7M165.7 101.0L170.5 101.8L175.4 102.5L180.3 103.2L185.2 103.9L190.1 104.6L195.0 105.2L199.9 105.8L204.9 106.4L209.8 107.0L214.7 107.5L219.6 108.0L224.5 108.5L229.5 108.9L234.4 109.4M239.1 53.8L238.5 60.7L237.9 67.6L237.3 74.5L236.7 81.5L236.1 88.4L235.6 95.4L235.0 102.4L234.4 109.4L233.8 116.3L233.2 123.3L232.6 130.4L232.0 137.4L231.4 144.4L230.8 151.4L230.2 158.5L229.6 165.5L224.4 165.0L219.2 164.6L214.0 164.0L208.8 163.5L203.6 162.9L198.3 162.4L193.1 161.7L187.9 161.1L182.7 160.4L177.5 159.7L176.6 166.5L175.7 173.2L174.8 180.0L173.8 186.8L172.9 193.6L172.0 200.3L171.0 207.1L170.1 213.9L169.2 220.7L168.2 227.4L167.3 234.2L166.4 241.0L165.4 247.8L164.5 254.5L163.6 261.3L162.6 268.0L161.7 274.8L160.8 281.5L159.9 288.3L158.9 295.0M115.2 206.8L120.6 207.8L126.0 208.8L131.5 209.7L136.9 210.7L142.3 211.6L147.8 212.5L153.2 213.3L158.7 214.2L164.2 215.0L169.6 215.7L175.1 216.5L180.6 217.2L186.1 217.9L191.5 218.5L197.0 219.1L202.5 219.7L208.0 220.3L213.5 220.8L219.0 221.3L224.5 221.8L230.0 222.3L235.5 222.7L241.0 223.1L246.5 223.5L252.0 223.8L257.5 224.1L263.1 224.4L268.6 224.6L274.1 224.8L279.6 225.0L285.1 225.2L290.6 225.3L296.2 225.4L301.7 225.5L307.2 225.6L312.7 225.6L318.2 225.6L323.8 225.5L329.3 225.5M229.6 165.5L234.9 165.9L240.1 166.3L245.3 166.7L250.6 167.0L250.1 174.1L249.7 181.1L249.2 188.2L248.8 195.2L248.3 202.3L247.9 209.4L247.4 216.4L247.0 223.5M236.5 222.8L236.0 229.8L235.5 229.8L235.0 236.8L234.4 243.9L233.9 250.9L233.4 258.0L232.8 265.0L232.3 272.0L231.7 279.1L231.2 286.1L230.6 293.1L225.4 292.7L220.1 292.3L214.9 291.8L209.7 291.4L204.4 290.9L199.2 290.3L193.9 289.8L188.7 289.2L189.4 292.4M235.5 96.2L240.3 96.6L245.2 97.0L250.1 97.3L254.9 97.7L259.8 98.0L264.6 98.2L269.5 98.5L274.4 98.7L279.2 98.9L284.1 99.0L289.0 99.2L293.8 99.3L298.7 99.4L303.6 99.5L308.5 99.5M308.5 99.5L308.1 94.5L307.2 90.3L306.2 86.1L305.1 79.1L304.0 72.1L303.5 68.0L303.1 63.8L302.4 56.9M232.0 137.4L236.7 137.8L241.4 138.1L246.1 138.5L250.8 138.8L255.5 139.1L260.2 139.3L264.9 139.6L269.6 139.8L274.3 140.0L279.1 140.2L283.8 140.3L288.5 140.5L292.0 141.6L295.6 142.7L299.6 142.5L304.7 144.1L309.3 147.8M308.5 99.5L305.7 104.2L309.5 108.5L309.5 114.8L309.4 121.1L309.4 127.4L309.4 133.8L308.8 140.8L309.3 147.8M309.3 147.8L310.3 152.1L312.9 159.1L314.7 165.3L315.5 170.0L316.4 174.7L318.8 178.9L321.3 183.1M249.7 181.1L254.8 181.4L259.9 181.7L265.0 182.0L270.1 182.2L275.2 182.4L280.3 182.6L285.5 182.8L290.6 182.9L295.7 183.0L300.8 183.1L305.9 183.1L311.1 183.1L316.2 183.1L321.3 183.1L324.7 189.4L329.0 195.8L329.1 201.7L329.1 207.6L329.2 213.6L329.2 219.5L329.3 225.5L329.4 232.5M236.0 229.8L241.5 230.2L247.1 230.6L252.7 230.9L258.2 231.2L263.8 231.5L269.4 231.7L269.1 238.6L268.8 245.4L268.5 252.3L268.2 259.1L272.7 261.6L277.2 264.6L281.2 265.4L285.2 266.2L290.9 269.9L296.7 269.3L300.1 270.7L303.6 272.2L307.1 269.4L310.5 270.1L314.0 270.8L319.8 273.6L325.5 269.3L328.6 271.1L331.6 272.9M329.4 232.5L330.2 237.7L331.0 242.9L331.8 248.0L331.7 254.3L331.7 260.5L331.7 266.7L331.6 272.9L336.7 274.1L336.8 279.6L337.0 285.1L337.1 290.6L337.2 296.1L341.4 302.9L343.4 309.8L341.7 316.9L341.9 323.9L340.3 328.2M309.4 133.8L314.2 133.8L319.0 133.7L323.8 133.7L328.6 133.6L333.4 133.6L338.2 133.4L343.0 133.3L347.8 133.1L352.7 133.0L357.5 132.7L362.3 132.5M362.3 132.5L359.1 125.6L354.9 121.6L349.7 117.6L345.7 115.6L346.0 111.1L346.4 106.5L344.7 101.6L347.3 99.8L350.0 98.0L349.8 93.8L349.6 89.6L351.0 88.1M362.3 132.5L363.3 139.5L366.1 142.9L368.9 146.3L374.4 153.0L374.0 155.9L371.2 160.3L366.0 161.3L366.3 166.2L365.6 173.3L362.4 176.6L362.7 181.4L363.1 186.2L368.7 191.5L372.2 197.0L377.7 197.4L376.8 201.0L375.5 206.7L380.8 212.1L385.7 218.8L389.6 222.8L386.4 230.1L384.7 237.3L381.8 244.6L381.1 251.7L375.8 259.1L371.6 266.4L369.6 272.2L370.0 276.4L370.5 280.6L372.1 287.6L368.4 294.8L367.5 301.9L366.7 309.0L372.3 308.7L377.9 308.4L383.4 308.1L389.0 307.7L388.6 313.4L391.4 319.1M362.4 176.6L359.0 173.6L354.2 173.8L349.5 174.0L344.8 174.2L340.0 174.3L335.3 174.4L330.6 174.5L325.8 174.6L321.1 174.6L316.4 174.7M384.7 237.3L380.9 237.6L377.2 237.8L379.2 230.6L373.7 230.9L368.1 231.2L362.6 231.5L357.1 231.8L351.5 232.0L346.0 232.1L340.5 232.3L334.9 232.4L329.4 232.5M370.5 280.6L364.9 280.9L359.3 281.1L353.7 281.4L348.1 281.5L342.5 281.7L336.9 281.8M396.8 107.6L394.5 103.6L391.0 98.2L386.0 95.8L381.0 94.8L376.1 94.4L371.2 94.1L368.1 90.8L368.0 89.1M368.9 146.3L373.8 146.0L378.6 145.7L383.5 145.3L388.3 145.0L393.1 144.6L398.0 144.2M401.7 154.3L402.3 161.2L402.9 168.2L403.6 175.1L404.2 182.0L404.8 188.9L404.4 193.2L405.9 197.4L404.1 201.8L401.4 208.1L401.2 210.6L400.8 214.8L397.3 219.4L395.8 220.9L392.7 221.9L389.6 222.8M409.0 153.6L413.2 153.2L417.4 152.8L421.5 152.3L425.7 151.9L429.8 151.4L429.9 152.2L434.6 151.7L439.2 151.1L443.9 150.5M429.9 152.2L430.6 158.3L431.3 164.4L432.0 170.5L432.7 176.6L433.4 182.6L434.1 188.7L433.7 193.1L428.5 195.1L424.8 201.2L423.1 205.6L418.5 203.3L416.7 207.7L412.4 208.8L406.9 208.6L404.1 209.6L401.2 210.6M473.3 142.1L474.3 148.4L475.4 154.7L476.4 161.0L477.4 167.3L478.5 173.6L483.5 172.8L488.4 171.9L493.4 171.0L498.4 170.1L503.3 169.2L508.3 168.2L513.3 167.2L518.2 166.2L523.1 165.2L528.1 164.1M476.4 160.8L476.1 164.2L475.6 169.3L475.1 174.4L472.5 177.0L469.9 179.5L467.0 185.7L463.5 187.7L459.2 195.4L454.5 193.2L451.2 193.0L447.8 192.7L444.5 192.4L441.2 192.1L437.5 188.3L434.1 188.7M459.2 195.4L461.8 202.2L467.7 206.3L464.6 210.4L461.2 213.7L457.8 217.1L454.3 219.7L450.8 222.3L445.5 223.0L440.1 223.6L434.7 224.3L429.4 224.9L424.0 225.4L418.6 226.0L413.2 226.5L407.8 227.0L402.4 227.5L402.6 228.9L397.2 229.3L391.8 229.7L386.4 230.1M450.8 222.3L456.4 221.5L461.9 220.8L467.4 220.0L472.9 219.2L478.2 218.4L483.6 217.6L488.9 216.8L494.2 215.9L499.6 215.0L504.9 214.1L510.2 213.2L515.5 212.3L520.8 211.3L526.1 210.3L531.4 209.2L536.7 208.1M472.9 219.2L471.0 223.0L467.3 228.6L464.2 230.4L461.0 232.3L457.9 234.5L454.8 236.7L449.3 238.2L446.8 245.6L441.3 246.3L435.9 246.9L430.4 247.5L424.9 248.1L419.5 248.6L414.0 249.2L408.5 249.7L403.0 250.1L397.5 250.6L392.1 251.0L386.6 251.4L381.1 251.7M402.6 250.2L403.9 251.5L403.6 258.2L403.3 265.0L403.0 271.7L402.6 278.5L403.1 285.5L403.5 292.6L403.9 299.6L404.3 306.6L405.0 310.8L405.6 315.1M432.1 247.3L433.7 253.1L435.2 258.9L436.8 264.7L438.4 270.5L440.0 276.3L441.6 280.3L443.3 284.4L443.3 289.3L443.3 294.3L444.3 298.4L445.4 302.5L440.3 303.1L435.1 303.7L429.9 304.2L424.8 304.8L419.6 305.3L414.5 305.7L417.4 311.1L416.6 315.7M445.4 302.5L447.6 306.5L452.7 306.3L457.9 306.0L463.3 305.6L468.7 305.1L474.1 304.6L479.5 304.1L481.3 303.2L481.7 306.8L482.6 304.7L484.5 300.8L488.1 300.7M460.3 243.8L458.8 249.7L465.1 253.2L469.2 257.6L473.3 261.9L477.2 264.2L482.6 269.1L485.8 274.3L488.9 277.8L491.9 281.2M446.8 245.6L451.3 245.0L455.8 244.4L460.3 243.8L464.6 241.8L468.9 239.8L473.6 239.1L478.3 238.4L482.9 237.6L484.6 239.5L486.0 238.6L490.4 239.3L494.9 240.0L499.4 240.6L504.3 244.3L509.4 247.9L514.4 251.5M467.7 206.3L473.4 209.1L478.6 206.8L481.8 205.6L484.9 204.4L486.4 199.8L489.7 193.5L490.9 187.5L494.3 188.4L496.8 183.6L499.6 181.0L502.4 178.3L505.3 176.3L508.2 174.3L509.0 174.1L511.6 175.1L516.0 177.8L517.5 179.6L516.5 185.6L519.4 186.5L523.6 187.8L527.8 189.1M532.1 188.2L535.5 187.4L539.0 186.6M489.4 171.7L490.1 175.3L490.7 179.0L494.0 176.6L497.3 174.2L501.1 171.3L505.6 171.9L506.3 170.3L509.0 174.1M528.1 164.1L529.7 169.9L531.2 175.7L532.8 181.5L536.3 180.7L539.7 180.0M528.1 164.1L529.7 162.0L531.9 162.1L534.9 158.6L537.6 155.8L534.7 152.8L531.2 149.3L531.3 144.9L533.4 140.1L534.3 139.0L538.9 140.6L543.6 142.1M480.3 136.7L481.0 140.5L486.0 139.6L490.9 138.7L495.9 137.8L500.9 136.8L505.8 135.9L510.8 134.9L515.7 133.8L520.7 132.8L525.6 131.7L528.7 133.2L531.0 137.7L534.3 139.0M536.0 86.0L537.5 92.8L538.8 99.0L540.0 105.2L541.8 106.2L543.0 111.4L544.2 116.5L544.2 121.6L544.2 126.7L545.4 131.8L546.7 137.0L545.0 140.3L546.0 141.5M553.6 81.5L554.4 88.5L551.6 93.6L551.1 99.6L550.5 105.5L551.4 110.2L552.2 114.8L548.2 115.7L544.2 116.5M552.2 114.8L556.1 114.0L560.0 113.1L563.8 112.2L568.2 108.6M556.5 76.4L558.3 82.0L560.1 87.7L561.9 93.4L563.7 99.1L566.0 102.3L568.4 105.5M544.2 126.7L548.5 125.7L552.8 124.8L557.0 123.8L561.3 122.8L565.5 121.7L569.0 124.7L570.0 128.1M561.3 122.8L562.3 127.6L563.3 132.4M500.9 326.7L501.9 329.0L502.9 331.3L503.7 334.0L504.6 336.7L505.6 338.6L506.6 340.6L507.6 342.5L508.7 344.8L509.9 347.1M329.3 333.3L328.1 332.2L326.8 331.2L326.5 329.5L326.2 327.7L327.7 327.9L329.2 328.1L329.6 329.6L329.9 331.2M309.1 346.0L307.6 344.8L306.0 343.6L307.9 343.1L309.7 342.7L311.6 342.2L313.1 342.7L314.7 343.2M299.1 354.7L297.8 354.3L296.4 353.9L297.5 356.3M346.2 327.0L346.5 325.4L346.8 323.8L345.6 325.9M533.9 200.5L533.3 198.0L533.2 196.2L533.1 194.5L533.3 192.7L533.6 191.0L532.5 188.8L531.1 187.7L531.2 185.4L529.7 185.1L527.9 184.3L527.0 182.7L528.4 181.7L527.2 181.2L526.0 180.8L527.3 180.4L528.6 179.9L529.7 180.0L527.8 179.5L525.9 179.1L525.1 177.8L526.4 177.1L524.6 176.5L524.5 175.3L525.6 174.5L526.7 173.7L524.7 173.1L525.0 170.9L526.3 169.1L526.4 167.0L525.3 167.2L524.2 169.6L522.9 171.3L521.1 172.1L522.8 173.5L522.7 175.7L522.9 177.1L523.1 178.5L523.9 181.2L524.6 182.5L525.3 183.8L523.9 183.2L522.5 182.7L523.7 184.0L524.8 185.4L527.0 187.8L527.4 188.6L525.7 187.9L524.1 187.3L522.4 186.6L520.8 186.0L519.2 185.4L518.6 183.9L518.1 182.4L518.0 184.6L519.0 185.8L520.1 187.1L522.0 187.9L523.8 188.7L525.6 189.5L527.1 189.9L528.6 190.3L527.1 191.4L525.7 192.4L524.2 193.4L525.8 193.9L527.4 194.4L529.0 194.9L529.5 197.1L528.3 198.2L527.1 199.3L529.0 200.4L530.6 202.2L528.9 202.2L527.2 202.2L529.8 203.8L530.9 204.0L532.6 203.7L534.2 203.3M536.2 208.3L536.1 210.1L536.0 211.9L538.3 214.3L536.3 214.7L534.4 215.1L532.6 215.8L530.9 216.4L529.1 217.0L531.0 217.0L532.9 217.0L534.8 216.9L536.0 217.2L537.2 217.4L538.7 216.4L538.7 218.9L538.6 221.5L537.4 222.5L536.2 223.4L534.6 224.1L533.0 224.8L531.1 225.0L529.2 225.1L527.3 225.3L529.3 225.6L531.3 225.9L533.3 226.2L534.8 228.1L532.7 229.0L530.6 229.9L528.4 230.8L530.0 231.0L531.6 231.1L533.2 231.3L535.6 231.5L537.0 232.7L536.0 233.8L535.1 234.9M381.0 318.1L382.5 317.6L384.0 317.2L386.1 317.8L388.3 318.3L389.6 319.6L388.1 320.6L386.7 321.5L384.9 321.5L383.0 321.5L381.1 320.2Z" fill="none" stroke="#3a3a3a" stroke-width="0.8" stroke-linejoin="round"/>
<path d="M48.1 25.2L51.4 27.9L55.5 30.8L58.9 32.3L62.5 33.6L64.8 34.2L64.9 37.2L58.9 42.7L59.1 47.1L59.8 48.0L63.3 46.1L64.3 46.1L66.5 42.0L68.1 38.1L69.4 37.0L68.5 33.2L69.0 29.7L69.5 26.2L68.2 22.3L72.6 23.5L77.0 24.8L81.5 26.0L85.9 27.2L90.3 28.3L94.8 29.5L99.2 30.6L103.7 31.7L108.1 32.8L112.6 33.8L117.1 34.9L121.5 35.9L126.0 36.8L130.5 37.8L135.0 38.7L139.5 39.7L144.0 40.5L148.5 41.4L153.0 42.3L157.5 43.1L162.0 43.9L166.5 44.6L171.1 45.4L175.6 46.1L180.1 46.8L184.7 47.5L189.2 48.2L193.7 48.8L198.3 49.4L202.8 50.0L207.4 50.5L212.0 51.1L216.5 51.6L221.1 52.1L225.6 52.6L230.2 53.0L234.8 53.4L239.3 53.8L243.9 54.2L248.5 54.5L253.1 54.9L257.6 55.2L262.2 55.4L266.8 55.7L271.4 55.9L275.9 56.1L280.5 56.3L285.1 56.5L289.7 56.6L294.3 56.7L298.9 56.8L303.5 56.9L308.0 56.9L312.6 56.9L317.2 56.9L321.8 56.9L321.8 51.6L323.6 52.7L325.1 58.2L326.5 60.7L330.5 62.0L334.5 63.3L338.2 62.1L342.0 63.0L345.8 64.0L348.7 64.9L351.5 65.8L354.4 67.4L357.3 69.0L360.1 68.5L362.9 68.0L366.7 68.2L370.5 68.3L374.4 69.1L369.8 72.0L365.2 74.9L361.6 78.5L358.0 82.2L354.7 84.8L351.5 87.4L352.5 88.1L357.3 87.1L362.0 85.1L363.8 84.0L366.0 88.8L368.0 89.1L372.2 86.9L376.4 84.6L379.7 84.0L383.1 83.4L386.2 80.4L390.1 75.9L392.4 75.0L388.5 79.5L390.2 82.2L393.6 85.0L397.0 87.9L400.9 88.2L405.5 85.7L408.3 85.0L411.2 84.4L414.0 83.4L416.8 82.3L420.5 85.4L424.0 85.7L426.3 84.7L429.3 89.3L434.3 90.0L431.5 91.1L428.7 92.2L423.8 92.1L419.9 92.9L416.1 93.7L411.4 95.6L408.5 96.2L405.6 96.9L401.9 98.7L398.4 103.2L396.8 107.6L395.2 111.9L393.5 116.0L396.3 113.2L398.9 108.8L403.4 104.1L401.8 108.5L399.4 114.4L398.9 120.1L397.2 123.0L396.5 127.3L395.9 131.6L396.4 137.2L398.0 144.2L400.1 151.1L402.1 155.1L403.2 156.2L408.3 154.6L411.8 148.5L414.2 141.2L413.2 137.1L412.3 132.9L411.1 128.8L409.9 124.7L411.2 117.5L412.1 111.7L415.1 107.2L416.3 104.2L417.7 108.3L418.9 105.3L419.1 102.5L421.5 98.0L423.7 95.2L426.5 96.1L429.3 97.0L434.5 99.2L438.1 103.7L439.9 109.8L438.6 114.9L436.2 119.5L435.8 124.5L440.3 120.4L443.9 117.0L447.7 118.6L449.1 122.7L450.4 126.8L451.8 130.9L450.8 136.7L447.7 140.7L446.3 145.2L443.9 150.5L447.4 151.4L450.9 152.4L456.2 152.3L459.2 151.5L462.3 150.7L466.9 146.4L469.7 144.5L472.5 142.6L477.2 139.0L480.8 135.9L484.4 132.7L487.6 127.2L485.1 121.9L487.7 120.6L490.3 119.2L494.3 118.9L498.4 118.7L501.9 118.1L505.4 117.5L509.9 114.2L512.2 110.1L510.3 106.2L509.7 103.4L513.7 98.3L516.1 95.2L518.5 92.2L522.9 89.1L527.3 88.0L531.7 87.0L536.1 85.9L540.5 84.9L544.8 83.8L549.2 82.6L553.6 81.5L555.6 77.3L556.5 76.4L558.0 73.1L560.1 69.6L562.2 66.1L562.1 58.8L563.1 54.2L564.0 49.6L565.8 42.4L569.7 45.1L571.9 43.3L574.1 41.6L579.3 43.6L580.4 43.7L582.0 48.7L583.5 53.7L585.1 58.7L589.6 62.4L592.7 67.3L597.5 71.0L594.2 75.6L591.7 77.5L589.1 79.4L585.0 82.9L580.6 85.6L576.9 91.1L572.7 94.5L570.5 98.0L568.8 105.1L568.2 108.9L570.1 112.0L568.2 114.7L571.1 117.6L574.1 120.4L575.2 122.7L580.3 121.6L580.2 119.4L577.6 117.7L577.4 118.8L579.4 120.4L581.2 122.8L578.6 124.3L576.0 125.7L571.2 127.8L567.4 129.5L563.4 132.8L560.1 133.8L556.9 134.7L552.9 136.2L548.3 139.5L545.8 142.3L543.8 145.2L543.5 146.4L541.6 149.8L544.3 149.9L545.2 154.8L545.6 159.7L543.6 165.3L541.5 169.2L539.3 173.1L539.1 169.9L535.5 168.6L530.9 165.2L533.7 170.4L537.6 175.4L539.7 180.0L539.0 186.6L536.8 194.4L534.2 200.7L534.2 203.3L536.7 208.1L538.7 211.7L540.8 215.2L543.9 220.3L544.4 225.7L539.7 229.2L535.2 235.2L529.7 237.0L526.7 239.5L523.7 241.9L521.4 245.2L520.5 249.7L517.5 250.6L514.4 251.5L510.2 257.3L508.6 261.9L505.7 265.3L502.7 268.7L497.6 273.8L492.7 280.3L490.6 282.1L488.8 289.5L488.1 296.7L488.2 301.0L489.6 306.5L491.9 311.8L494.0 315.7L496.0 319.6L500.1 326.1L504.0 330.4L505.0 336.6L509.2 343.0L512.8 349.4L514.9 356.1L515.1 363.1L513.8 370.4L513.1 374.0L507.0 376.4L503.4 374.2L499.4 371.3L495.4 368.4L492.3 364.7L489.1 360.9L488.0 357.6L489.4 353.9L486.5 355.7L485.5 353.7L481.0 348.7L479.1 346.2L481.0 344.5L481.8 340.9L480.0 341.6L478.8 343.7L477.7 342.9L477.7 338.6L478.0 332.2L475.4 327.0L471.4 324.7L466.4 319.7L459.7 314.9L455.4 314.8L453.2 317.2L447.6 321.4L443.3 321.2L439.8 317.3L435.9 314.9L429.7 313.5L424.8 313.2L420.7 314.3L416.5 315.4L410.6 316.6L405.6 314.9L402.0 315.2L398.4 315.5L393.7 317.3L391.4 319.5L393.4 321.5L392.5 326.5L395.9 331.2L398.0 335.2L394.8 333.3L391.4 332.9L388.0 332.4L385.1 334.7L378.9 333.6L375.1 331.7L371.3 329.8L365.2 328.7L360.2 326.8L354.2 329.2L350.5 328.2L346.9 327.3L343.5 327.7L340.2 328.2L336.3 330.0L332.3 331.8L328.7 334.0L323.9 338.2L319.6 340.7L315.3 343.2L309.1 346.0L302.9 350.8L299.1 355.0L296.5 361.9L295.8 368.9L297.3 373.7L298.8 378.6L299.4 380.7L295.0 380.0L290.6 378.5L286.2 377.0L281.8 375.5L277.4 374.0L274.1 369.7L270.7 365.4L270.4 358.4L265.0 351.3L261.8 346.2L258.7 341.2L256.4 336.5L254.2 331.9L248.5 325.2L244.8 325.7L241.1 326.2L236.3 324.5L230.4 330.4L226.4 335.0L222.3 333.3L218.8 330.2L215.3 327.8L211.9 325.4L210.5 320.4L209.1 315.3L205.9 310.8L202.7 306.9L199.4 303.1L194.6 297.8L189.8 292.5L189.4 292.4L184.5 291.9L179.5 291.3L174.6 290.7L169.7 290.1L168.9 296.3L163.2 295.6L157.6 294.8L152.0 294.0L146.3 293.2L140.7 292.4L135.1 291.5L129.9 288.6L124.8 285.6L119.7 282.7L114.6 279.7L109.5 276.7L104.4 273.7L99.4 270.7L94.4 267.6L96.1 264.6L90.5 264.0L84.9 263.4L79.2 262.8L73.6 262.1L68.0 261.4L67.6 258.9L66.9 251.5L64.3 247.2L60.6 242.8L57.4 241.3L57.1 237.6L53.3 235.9L48.8 232.6L45.0 228.8L40.9 227.4L36.9 225.9L35.2 223.3L37.0 216.5L35.5 211.0L32.1 206.4L29.6 198.4L29.0 192.3L30.3 187.6L28.2 187.0L27.1 182.6L26.1 178.3L27.2 174.2L23.3 170.1L23.4 165.7L21.2 160.7L19.1 155.6L19.8 151.4L20.5 147.1L20.0 139.6L18.2 132.6L21.7 128.3L24.4 123.2L25.0 119.4L25.7 115.5L26.7 112.1L26.8 104.8L26.8 99.6L30.8 93.5L33.3 89.5L35.9 85.5L37.3 81.5L38.8 77.6L41.1 71.7L43.4 65.8L45.4 59.1L45.5 55.4L46.9 49.3L47.6 45.1L47.7 40.0L47.3 35.9L47.0 31.8L48.1 25.2ZM543.8 147.5L549.1 146.9L552.4 144.8L555.6 142.8L560.2 139.4L564.1 135.9L559.9 138.1L557.0 139.5L554.0 140.5L551.0 141.4L547.0 142.7L544.2 144.8ZM67.5 37.2L67.0 36.3L66.4 35.4L66.0 34.2L65.6 33.0L66.2 31.8L66.8 30.5L67.1 31.3L67.3 32.1L67.4 33.6L67.5 35.0ZM64.9 37.2L65.3 38.4L65.7 39.6L65.4 40.5L65.2 41.4L64.9 42.2L64.5 43.3L64.0 44.4L63.5 45.5L63.0 45.1L62.4 44.7L61.9 44.3L61.4 43.4L60.9 42.5L61.8 41.6L62.7 40.7L63.7 39.7ZM65.7 29.4L65.1 29.3L64.4 29.1L63.8 28.9L63.4 28.1L62.9 27.2L63.9 26.4L64.8 25.6L65.4 26.1L66.0 26.7ZM573.5 129.4L574.1 128.6L574.7 127.9L575.3 127.1L576.2 127.4L577.1 127.6L576.5 128.2L575.8 128.9ZM579.8 128.7L580.6 128.3L581.5 127.9L582.5 128.3L581.9 128.6L581.2 128.8ZM383.6 66.0L382.9 66.4L382.3 66.8L381.6 67.2L380.9 67.6L380.0 68.5L379.1 69.5L378.3 70.5L379.0 70.2L379.8 70.0L380.6 69.7ZM299.2 378.6L299.1 377.2L299.0 375.8L298.8 374.5L298.7 373.1L298.6 371.7L298.5 370.3L298.3 368.9L298.2 367.5L298.1 366.1L298.0 364.7L297.9 363.3L297.8 361.9L298.3 360.5L298.8 359.1L299.3 357.8L299.9 356.4L300.4 355.0L300.9 355.0L300.5 356.4L300.0 357.8L299.6 359.2L299.2 360.5L298.8 361.9L298.9 363.3L299.0 364.7L299.1 366.1L299.2 367.5L299.3 368.9L299.4 370.3L299.5 371.7L299.6 373.1L299.6 374.5L299.7 375.9L299.8 377.2L299.9 378.6Z" fill="none" stroke="#3a3a3a" stroke-width="0.8" stroke-linejoin="round"/>
<path d="M513.4 374.4L512.9 375.6L512.3 376.8L511.8 378.0L510.7 379.0L509.5 380.1L508.4 381.1L507.3 381.7L506.3 382.3L505.2 382.9L504.2 383.4L503.1 383.8L502.0 384.2L500.9 384.6L499.9 385.0L498.8 385.4L497.8 385.8L496.8 386.3" fill="none" stroke="#3a3a3a" stroke-width="0.9" stroke-dasharray="1.6 1.2"/>
<g>
<circle cx="587" cy="374.6" r="18.6" fill="#fff"/>
<path d="M572.5 364.1A17.9 17.9 0 0 1 601.19 363.69C599 367.5 596.5 372 592.5 375.3C590.5 376.8 588.5 377.6 586.8 377.6C584.5 377.4 582 376.2 579.8 374.2C577 371.5 575 367.8 572.5 364.1Z" fill="#233b7e"/>
<path d="M569.83 370.28A17.7 17.7 0 1 0 603.31 367.73C600.8 371.3 598.6 374 596.3 376C593.5 378.5 590.5 380 587.8 380.6C584 381.2 580.5 380 577.5 377.7C574.5 375.5 572 372.8 569.83 370.28Z" fill="#0b71c3"/>
<path d="M580.8 383.3C585 381.4 590 379.6 596.2 377.6C591.5 380.3 586.5 382.6 580.8 383.3Z" fill="#fff"/>
<text x="586.6" y="368.9" text-anchor="middle" font-family="Liberation Sans, sans-serif" font-weight="bold" font-size="7" fill="#fff" textLength="15" lengthAdjust="spacingAndGlyphs">NOAA</text>
</g>
<text x="2.9" y="394.7" class="nts" textLength="120.8" lengthAdjust="spacingAndGlyphs">AK and HI not to scale</text>
</svg>
<svg class="ak" width="184" height="146" viewBox="0 402 184 146">
<rect x="0" y="402" width="184" height="146" fill="#f4f4f4"/>
<path d="M0.0 402.0L5.5 402.7L13.7 408.2L21.9 412.3L31.5 417.8L39.7 427.4L43.8 434.2L47.2 439.7L53.3 445.1L50.6 450.6L45.1 454.7L39.7 450.6L34.2 443.8L30.1 442.4L24.6 445.1L21.9 452.0L20.5 458.8L13.7 457.4L6.8 456.0L0.0 456.0Z" fill="#dedede"/>
<path d="M123.4 427.4L129.0 426.5L135.4 425.6L140.5 418.8L145.6 415.4L154.2 412.0L162.8 409.4L171.3 407.7L177.0 407.0L184.0 406.5L184.0 505.0L175.0 500.0L137.0 482.0ZM150.0 405.5L156.0 403.5L160.0 404.5L156.0 406.5ZM163.0 404.5L170.0 402.5L176.0 403.5L170.0 405.5ZM177.0 403.5L184.0 402.5L184.0 405.5L179.0 405.5Z" fill="#dedede"/>
<path d="M140.5 430L150 433.5L160 437L171.3 441.9L184 446" fill="none" stroke="#ececec" stroke-width="0.6"/>
<defs><clipPath id="akc"><path d="M124.4 428.0L123.2 427.6L122.0 427.2L120.7 426.8L119.5 426.3L118.4 426.6L117.4 426.9L116.3 427.1L115.2 427.4L114.1 427.3L113.0 427.3L111.8 427.2L110.7 427.1L109.6 427.0L108.5 426.8L107.4 426.7L106.3 426.6L105.2 426.6L104.1 426.6L103.0 426.5L101.8 425.9L100.7 425.3L99.6 424.8L98.5 424.7L97.5 424.6L96.4 424.5L95.3 424.4L94.3 423.9L93.2 423.4L92.2 422.9L91.1 422.4L90.1 421.9L89.0 423.2L87.9 424.4L86.8 424.6L85.7 424.8L84.7 424.9L83.5 425.8L82.4 426.7L81.2 427.6L80.1 427.9L78.9 428.2L77.8 428.5L76.6 429.5L75.3 430.5L74.0 431.6L72.9 432.6L71.7 433.6L70.6 434.6L69.5 434.5L68.4 434.3L67.4 434.2L67.3 435.9L67.2 437.6L68.2 438.7L69.2 439.8L70.2 440.9L71.0 442.1L71.8 443.4L72.5 444.6L73.2 445.8L74.4 446.2L75.6 446.6L76.6 449.0L75.3 449.7L73.9 450.5L72.7 449.8L71.5 449.1L70.3 448.4L69.0 448.8L67.6 449.3L66.2 449.7L64.8 450.4L63.4 451.0L62.0 451.4L60.6 451.8L59.2 452.1L60.2 453.5L61.3 454.8L62.0 456.7L62.7 458.5L63.8 458.9L64.8 459.4L65.8 459.8L67.2 459.8L68.6 459.8L70.0 459.8L71.3 459.8L72.7 460.2L74.0 460.6L75.3 461.0L76.4 459.9L77.5 458.8L76.8 461.1L76.2 463.3L76.2 466.2L74.8 466.1L73.4 466.0L71.9 465.9L70.4 466.7L68.9 467.6L67.3 468.4L65.8 469.4L64.3 470.4L63.0 472.0L61.7 473.5L60.0 476.2L61.1 478.4L62.3 480.6L63.8 481.4L65.2 482.1L66.6 483.6L67.9 485.1L69.3 486.6L70.3 488.1L71.2 489.6L70.7 491.6L70.1 493.6L71.7 494.0L73.3 494.4L74.9 494.6L76.6 494.9L78.2 495.1L79.9 495.3L81.6 494.5L83.3 493.7L84.9 494.0L86.5 494.3L85.9 496.6L85.2 498.9L84.6 501.2L82.8 502.9L81.0 504.6L79.1 506.2L77.2 507.9L75.3 509.5L73.5 509.8L71.7 510.1L69.9 510.3L67.9 511.7L66.0 513.1L64.0 514.5L62.4 514.9L60.9 515.3L59.3 515.8L57.8 516.2L59.2 516.1L60.5 516.1L61.9 516.0L63.9 515.2L65.8 514.4L67.7 513.6L69.6 513.0L71.5 512.4L73.4 511.7L75.2 511.1L77.1 510.4L78.9 509.7L80.8 508.2L82.6 506.7L84.4 505.2L86.2 504.1L87.9 503.0L89.7 501.8L91.4 500.1L93.1 498.3L94.8 496.8L96.4 495.4L97.2 493.6L98.0 491.8L98.8 489.8L99.5 487.7L101.0 485.7L102.5 483.6L104.0 482.0L105.4 480.5L106.9 479.7L108.4 478.8L110.0 480.1L108.6 481.4L107.1 482.7L105.8 483.6L104.4 484.6L103.9 486.6L103.4 488.7L104.7 489.5L106.1 490.3L107.6 489.6L109.2 488.9L110.7 487.6L112.2 486.3L112.8 484.5L113.4 482.7L114.7 480.8L116.2 480.0L117.7 479.3L119.2 479.1L120.7 478.9L122.5 480.4L124.3 481.8L126.1 482.7L127.8 483.6L129.4 483.3L131.0 483.1L132.5 482.8L134.1 482.5L135.7 482.3L137.3 482.1L139.0 482.5L140.7 482.8L142.4 483.0L144.1 483.2L146.2 484.5L148.2 485.8L150.1 486.5L152.1 487.2L154.2 488.4L155.6 490.1L157.0 491.8L159.6 494.1L162.2 496.3L164.8 498.5L167.5 500.7L169.7 501.5L172.0 502.3L173.9 502.3L175.8 502.2L177.8 502.2L179.3 501.6L180.9 501.1L180.7 498.7L180.4 496.3L180.1 494.0L179.3 493.0L177.7 492.9L176.0 492.7L174.3 492.5L172.6 492.4L171.0 491.7L169.5 491.0L166.8 488.8L164.2 486.6L161.7 484.7L159.2 482.7L157.0 480.7L154.8 478.6L153.8 479.5L152.9 480.4L151.9 481.2L150.7 482.8L149.5 484.3L147.3 482.7L145.2 481.2L143.9 480.6L142.6 480.0L141.2 480.2L139.8 480.3L138.5 480.4L136.8 480.2L136.1 477.4L135.5 474.6L134.8 471.9L134.2 469.1L133.5 466.3L132.9 463.6L132.2 460.8L131.6 458.1L130.9 455.3L130.3 452.6L129.6 449.8L129.0 447.1L128.3 444.3L127.7 441.6L127.0 438.9L126.4 436.1L125.7 433.4L125.1 430.7L124.4 428.0ZM172.8 494.7L172.0 495.6L171.2 496.5L170.3 497.4L169.3 498.3L168.9 501.5L171.7 503.6L172.6 503.0L173.6 502.4L174.1 499.8L174.0 496.8ZM160.9 486.4L159.5 486.9L158.0 487.3L157.0 488.2L156.0 489.1L155.0 490.0L156.2 491.4L157.4 492.9L159.5 494.7L161.5 496.5L162.8 497.0L164.1 497.5L163.0 495.5L161.9 493.4L160.3 490.8ZM161.7 485.6L160.7 485.9L159.8 486.2L160.1 488.2L160.5 490.2L162.7 492.5L163.4 490.5ZM169.7 491.5L168.1 492.3L166.6 493.1L166.1 495.7L167.8 495.5L169.6 495.2L170.6 493.0ZM176.8 495.2L175.9 495.8L175.0 496.4L175.2 498.8L176.5 499.0L177.7 499.2L178.1 497.2ZM102.2 498.6L100.7 498.1L99.1 497.6L97.5 499.1L95.8 500.6L94.1 503.5L95.4 504.5L96.6 505.4L98.0 504.4L99.3 503.3L100.8 501.8L102.3 500.3ZM54.1 464.8L53.0 465.0L51.9 465.3L50.7 464.3L49.5 463.3L48.4 462.5L47.4 461.7L46.4 460.9L47.6 461.2L48.7 461.4L49.9 461.7L51.2 462.2L52.5 462.7ZM59.9 483.8L58.8 484.5L57.7 485.3L56.5 484.7L55.3 484.2L54.2 483.6L55.8 482.1L57.3 482.3L58.8 482.5ZM52.7 516.9l1.6 -0.6l1.6 0.6l-1.6 0.5ZM48.5 517.5l1.6 -0.6l1.6 0.6l-1.6 0.5ZM42.7 519.5l1.6 -0.6l1.6 0.6l-1.6 0.5ZM36.5 521.4l1.6 -0.6l1.6 0.6l-1.6 0.5ZM31.2 522.1l1.6 -0.6l1.6 0.6l-1.6 0.5ZM24.4 522.4l1.6 -0.6l1.6 0.6l-1.6 0.5ZM18.4 522.2l1.6 -0.6l1.6 0.6l-1.6 0.5ZM12.4 521.9l1.6 -0.6l1.6 0.6l-1.6 0.5ZM6.6 520.8l1.6 -0.6l1.6 0.6l-1.6 0.5ZM0.9 519.7l1.6 -0.6l1.6 0.6l-1.6 0.5ZM-4.4 517.3l1.6 -0.6l1.6 0.6l-1.6 0.5ZM-9.6 514.9l1.6 -0.6l1.6 0.6l-1.6 0.5ZM-14.5 511.8l1.6 -0.6l1.6 0.6l-1.6 0.5ZM-19.0 508.1l1.6 -0.6l1.6 0.6l-1.6 0.5ZM-23.3 504.4l1.6 -0.6l1.6 0.6l-1.6 0.5ZM-26.2 501.8l1.6 -0.6l1.6 0.6l-1.6 0.5Z"/></clipPath></defs>
<path d="M124.4 428.0L123.2 427.6L122.0 427.2L120.7 426.8L119.5 426.3L118.4 426.6L117.4 426.9L116.3 427.1L115.2 427.4L114.1 427.3L113.0 427.3L111.8 427.2L110.7 427.1L109.6 427.0L108.5 426.8L107.4 426.7L106.3 426.6L105.2 426.6L104.1 426.6L103.0 426.5L101.8 425.9L100.7 425.3L99.6 424.8L98.5 424.7L97.5 424.6L96.4 424.5L95.3 424.4L94.3 423.9L93.2 423.4L92.2 422.9L91.1 422.4L90.1 421.9L89.0 423.2L87.9 424.4L86.8 424.6L85.7 424.8L84.7 424.9L83.5 425.8L82.4 426.7L81.2 427.6L80.1 427.9L78.9 428.2L77.8 428.5L76.6 429.5L75.3 430.5L74.0 431.6L72.9 432.6L71.7 433.6L70.6 434.6L69.5 434.5L68.4 434.3L67.4 434.2L67.3 435.9L67.2 437.6L68.2 438.7L69.2 439.8L70.2 440.9L71.0 442.1L71.8 443.4L72.5 444.6L73.2 445.8L74.4 446.2L75.6 446.6L76.6 449.0L75.3 449.7L73.9 450.5L72.7 449.8L71.5 449.1L70.3 448.4L69.0 448.8L67.6 449.3L66.2 449.7L64.8 450.4L63.4 451.0L62.0 451.4L60.6 451.8L59.2 452.1L60.2 453.5L61.3 454.8L62.0 456.7L62.7 458.5L63.8 458.9L64.8 459.4L65.8 459.8L67.2 459.8L68.6 459.8L70.0 459.8L71.3 459.8L72.7 460.2L74.0 460.6L75.3 461.0L76.4 459.9L77.5 458.8L76.8 461.1L76.2 463.3L76.2 466.2L74.8 466.1L73.4 466.0L71.9 465.9L70.4 466.7L68.9 467.6L67.3 468.4L65.8 469.4L64.3 470.4L63.0 472.0L61.7 473.5L60.0 476.2L61.1 478.4L62.3 480.6L63.8 481.4L65.2 482.1L66.6 483.6L67.9 485.1L69.3 486.6L70.3 488.1L71.2 489.6L70.7 491.6L70.1 493.6L71.7 494.0L73.3 494.4L74.9 494.6L76.6 494.9L78.2 495.1L79.9 495.3L81.6 494.5L83.3 493.7L84.9 494.0L86.5 494.3L85.9 496.6L85.2 498.9L84.6 501.2L82.8 502.9L81.0 504.6L79.1 506.2L77.2 507.9L75.3 509.5L73.5 509.8L71.7 510.1L69.9 510.3L67.9 511.7L66.0 513.1L64.0 514.5L62.4 514.9L60.9 515.3L59.3 515.8L57.8 516.2L59.2 516.1L60.5 516.1L61.9 516.0L63.9 515.2L65.8 514.4L67.7 513.6L69.6 513.0L71.5 512.4L73.4 511.7L75.2 511.1L77.1 510.4L78.9 509.7L80.8 508.2L82.6 506.7L84.4 505.2L86.2 504.1L87.9 503.0L89.7 501.8L91.4 500.1L93.1 498.3L94.8 496.8L96.4 495.4L97.2 493.6L98.0 491.8L98.8 489.8L99.5 487.7L101.0 485.7L102.5 483.6L104.0 482.0L105.4 480.5L106.9 479.7L108.4 478.8L110.0 480.1L108.6 481.4L107.1 482.7L105.8 483.6L104.4 484.6L103.9 486.6L103.4 488.7L104.7 489.5L106.1 490.3L107.6 489.6L109.2 488.9L110.7 487.6L112.2 486.3L112.8 484.5L113.4 482.7L114.7 480.8L116.2 480.0L117.7 479.3L119.2 479.1L120.7 478.9L122.5 480.4L124.3 481.8L126.1 482.7L127.8 483.6L129.4 483.3L131.0 483.1L132.5 482.8L134.1 482.5L135.7 482.3L137.3 482.1L139.0 482.5L140.7 482.8L142.4 483.0L144.1 483.2L146.2 484.5L148.2 485.8L150.1 486.5L152.1 487.2L154.2 488.4L155.6 490.1L157.0 491.8L159.6 494.1L162.2 496.3L164.8 498.5L167.5 500.7L169.7 501.5L172.0 502.3L173.9 502.3L175.8 502.2L177.8 502.2L179.3 501.6L180.9 501.1L180.7 498.7L180.4 496.3L180.1 494.0L179.3 493.0L177.7 492.9L176.0 492.7L174.3 492.5L172.6 492.4L171.0 491.7L169.5 491.0L166.8 488.8L164.2 486.6L161.7 484.7L159.2 482.7L157.0 480.7L154.8 478.6L153.8 479.5L152.9 480.4L151.9 481.2L150.7 482.8L149.5 484.3L147.3 482.7L145.2 481.2L143.9 480.6L142.6 480.0L141.2 480.2L139.8 480.3L138.5 480.4L136.8 480.2L136.1 477.4L135.5 474.6L134.8 471.9L134.2 469.1L133.5 466.3L132.9 463.6L132.2 460.8L131.6 458.1L130.9 455.3L130.3 452.6L129.6 449.8L129.0 447.1L128.3 444.3L127.7 441.6L127.0 438.9L126.4 436.1L125.7 433.4L125.1 430.7L124.4 428.0ZM172.8 494.7L172.0 495.6L171.2 496.5L170.3 497.4L169.3 498.3L168.9 501.5L171.7 503.6L172.6 503.0L173.6 502.4L174.1 499.8L174.0 496.8ZM160.9 486.4L159.5 486.9L158.0 487.3L157.0 488.2L156.0 489.1L155.0 490.0L156.2 491.4L157.4 492.9L159.5 494.7L161.5 496.5L162.8 497.0L164.1 497.5L163.0 495.5L161.9 493.4L160.3 490.8ZM161.7 485.6L160.7 485.9L159.8 486.2L160.1 488.2L160.5 490.2L162.7 492.5L163.4 490.5ZM169.7 491.5L168.1 492.3L166.6 493.1L166.1 495.7L167.8 495.5L169.6 495.2L170.6 493.0ZM176.8 495.2L175.9 495.8L175.0 496.4L175.2 498.8L176.5 499.0L177.7 499.2L178.1 497.2ZM102.2 498.6L100.7 498.1L99.1 497.6L97.5 499.1L95.8 500.6L94.1 503.5L95.4 504.5L96.6 505.4L98.0 504.4L99.3 503.3L100.8 501.8L102.3 500.3ZM54.1 464.8L53.0 465.0L51.9 465.3L50.7 464.3L49.5 463.3L48.4 462.5L47.4 461.7L46.4 460.9L47.6 461.2L48.7 461.4L49.9 461.7L51.2 462.2L52.5 462.7ZM59.9 483.8L58.8 484.5L57.7 485.3L56.5 484.7L55.3 484.2L54.2 483.6L55.8 482.1L57.3 482.3L58.8 482.5ZM52.7 516.9l1.6 -0.6l1.6 0.6l-1.6 0.5ZM48.5 517.5l1.6 -0.6l1.6 0.6l-1.6 0.5ZM42.7 519.5l1.6 -0.6l1.6 0.6l-1.6 0.5ZM36.5 521.4l1.6 -0.6l1.6 0.6l-1.6 0.5ZM31.2 522.1l1.6 -0.6l1.6 0.6l-1.6 0.5ZM24.4 522.4l1.6 -0.6l1.6 0.6l-1.6 0.5ZM18.4 522.2l1.6 -0.6l1.6 0.6l-1.6 0.5ZM12.4 521.9l1.6 -0.6l1.6 0.6l-1.6 0.5ZM6.6 520.8l1.6 -0.6l1.6 0.6l-1.6 0.5ZM0.9 519.7l1.6 -0.6l1.6 0.6l-1.6 0.5ZM-4.4 517.3l1.6 -0.6l1.6 0.6l-1.6 0.5ZM-9.6 514.9l1.6 -0.6l1.6 0.6l-1.6 0.5ZM-14.5 511.8l1.6 -0.6l1.6 0.6l-1.6 0.5ZM-19.0 508.1l1.6 -0.6l1.6 0.6l-1.6 0.5ZM-23.3 504.4l1.6 -0.6l1.6 0.6l-1.6 0.5ZM-26.2 501.8l1.6 -0.6l1.6 0.6l-1.6 0.5Z" fill="#fdc97e"/>
<g clip-path="url(#akc)"><path d="M40.0 430.0C45.2 437.2 63.4 440.7 71.5 443.2C79.6 445.7 83.4 443.7 88.4 444.8C93.4 445.9 97.3 447.7 101.3 449.7C105.3 451.7 108.6 454.4 112.6 457.0C116.6 459.6 121.5 462.4 125.5 465.0C129.5 467.6 132.7 469.5 136.8 472.3C140.9 475.1 147.8 494.1 150.0 482.0C152.2 469.9 168.3 413.7 150.0 400.0C131.7 386.3 58.3 395.0 40.0 400.0C21.7 405.0 34.8 422.8 40.0 430.0Z" fill="#fee6a9"/><path d="M40.0 470.0C44.3 459.4 59.3 467.7 65.8 466.6C72.2 465.5 74.4 463.1 78.7 463.4C83.0 463.7 88.1 466.0 91.6 468.2C95.1 470.4 98.0 473.6 99.7 476.3C101.5 479.0 101.8 481.3 102.1 484.4C102.4 487.5 102.1 491.2 101.3 494.8C100.5 498.4 100.5 501.8 97.0 506.0C93.5 510.2 89.5 516.0 80.0 520.0C70.5 524.0 46.7 538.3 40.0 530.0C33.3 521.7 35.7 480.6 40.0 470.0Z" fill="#fca35b"/></g>
<path d="M124.4 428.0L123.2 427.6L122.0 427.2L120.7 426.8L119.5 426.3L118.4 426.6L117.4 426.9L116.3 427.1L115.2 427.4L114.1 427.3L113.0 427.3L111.8 427.2L110.7 427.1L109.6 427.0L108.5 426.8L107.4 426.7L106.3 426.6L105.2 426.6L104.1 426.6L103.0 426.5L101.8 425.9L100.7 425.3L99.6 424.8L98.5 424.7L97.5 424.6L96.4 424.5L95.3 424.4L94.3 423.9L93.2 423.4L92.2 422.9L91.1 422.4L90.1 421.9L89.0 423.2L87.9 424.4L86.8 424.6L85.7 424.8L84.7 424.9L83.5 425.8L82.4 426.7L81.2 427.6L80.1 427.9L78.9 428.2L77.8 428.5L76.6 429.5L75.3 430.5L74.0 431.6L72.9 432.6L71.7 433.6L70.6 434.6L69.5 434.5L68.4 434.3L67.4 434.2L67.3 435.9L67.2 437.6L68.2 438.7L69.2 439.8L70.2 440.9L71.0 442.1L71.8 443.4L72.5 444.6L73.2 445.8L74.4 446.2L75.6 446.6L76.6 449.0L75.3 449.7L73.9 450.5L72.7 449.8L71.5 449.1L70.3 448.4L69.0 448.8L67.6 449.3L66.2 449.7L64.8 450.4L63.4 451.0L62.0 451.4L60.6 451.8L59.2 452.1L60.2 453.5L61.3 454.8L62.0 456.7L62.7 458.5L63.8 458.9L64.8 459.4L65.8 459.8L67.2 459.8L68.6 459.8L70.0 459.8L71.3 459.8L72.7 460.2L74.0 460.6L75.3 461.0L76.4 459.9L77.5 458.8L76.8 461.1L76.2 463.3L76.2 466.2L74.8 466.1L73.4 466.0L71.9 465.9L70.4 466.7L68.9 467.6L67.3 468.4L65.8 469.4L64.3 470.4L63.0 472.0L61.7 473.5L60.0 476.2L61.1 478.4L62.3 480.6L63.8 481.4L65.2 482.1L66.6 483.6L67.9 485.1L69.3 486.6L70.3 488.1L71.2 489.6L70.7 491.6L70.1 493.6L71.7 494.0L73.3 494.4L74.9 494.6L76.6 494.9L78.2 495.1L79.9 495.3L81.6 494.5L83.3 493.7L84.9 494.0L86.5 494.3L85.9 496.6L85.2 498.9L84.6 501.2L82.8 502.9L81.0 504.6L79.1 506.2L77.2 507.9L75.3 509.5L73.5 509.8L71.7 510.1L69.9 510.3L67.9 511.7L66.0 513.1L64.0 514.5L62.4 514.9L60.9 515.3L59.3 515.8L57.8 516.2L59.2 516.1L60.5 516.1L61.9 516.0L63.9 515.2L65.8 514.4L67.7 513.6L69.6 513.0L71.5 512.4L73.4 511.7L75.2 511.1L77.1 510.4L78.9 509.7L80.8 508.2L82.6 506.7L84.4 505.2L86.2 504.1L87.9 503.0L89.7 501.8L91.4 500.1L93.1 498.3L94.8 496.8L96.4 495.4L97.2 493.6L98.0 491.8L98.8 489.8L99.5 487.7L101.0 485.7L102.5 483.6L104.0 482.0L105.4 480.5L106.9 479.7L108.4 478.8L110.0 480.1L108.6 481.4L107.1 482.7L105.8 483.6L104.4 484.6L103.9 486.6L103.4 488.7L104.7 489.5L106.1 490.3L107.6 489.6L109.2 488.9L110.7 487.6L112.2 486.3L112.8 484.5L113.4 482.7L114.7 480.8L116.2 480.0L117.7 479.3L119.2 479.1L120.7 478.9L122.5 480.4L124.3 481.8L126.1 482.7L127.8 483.6L129.4 483.3L131.0 483.1L132.5 482.8L134.1 482.5L135.7 482.3L137.3 482.1L139.0 482.5L140.7 482.8L142.4 483.0L144.1 483.2L146.2 484.5L148.2 485.8L150.1 486.5L152.1 487.2L154.2 488.4L155.6 490.1L157.0 491.8L159.6 494.1L162.2 496.3L164.8 498.5L167.5 500.7L169.7 501.5L172.0 502.3L173.9 502.3L175.8 502.2L177.8 502.2L179.3 501.6L180.9 501.1L180.7 498.7L180.4 496.3L180.1 494.0L179.3 493.0L177.7 492.9L176.0 492.7L174.3 492.5L172.6 492.4L171.0 491.7L169.5 491.0L166.8 488.8L164.2 486.6L161.7 484.7L159.2 482.7L157.0 480.7L154.8 478.6L153.8 479.5L152.9 480.4L151.9 481.2L150.7 482.8L149.5 484.3L147.3 482.7L145.2 481.2L143.9 480.6L142.6 480.0L141.2 480.2L139.8 480.3L138.5 480.4L136.8 480.2L136.1 477.4L135.5 474.6L134.8 471.9L134.2 469.1L133.5 466.3L132.9 463.6L132.2 460.8L131.6 458.1L130.9 455.3L130.3 452.6L129.6 449.8L129.0 447.1L128.3 444.3L127.7 441.6L127.0 438.9L126.4 436.1L125.7 433.4L125.1 430.7L124.4 428.0ZM172.8 494.7L172.0 495.6L171.2 496.5L170.3 497.4L169.3 498.3L168.9 501.5L171.7 503.6L172.6 503.0L173.6 502.4L174.1 499.8L174.0 496.8ZM160.9 486.4L159.5 486.9L158.0 487.3L157.0 488.2L156.0 489.1L155.0 490.0L156.2 491.4L157.4 492.9L159.5 494.7L161.5 496.5L162.8 497.0L164.1 497.5L163.0 495.5L161.9 493.4L160.3 490.8ZM161.7 485.6L160.7 485.9L159.8 486.2L160.1 488.2L160.5 490.2L162.7 492.5L163.4 490.5ZM169.7 491.5L168.1 492.3L166.6 493.1L166.1 495.7L167.8 495.5L169.6 495.2L170.6 493.0ZM176.8 495.2L175.9 495.8L175.0 496.4L175.2 498.8L176.5 499.0L177.7 499.2L178.1 497.2ZM102.2 498.6L100.7 498.1L99.1 497.6L97.5 499.1L95.8 500.6L94.1 503.5L95.4 504.5L96.6 505.4L98.0 504.4L99.3 503.3L100.8 501.8L102.3 500.3ZM54.1 464.8L53.0 465.0L51.9 465.3L50.7 464.3L49.5 463.3L48.4 462.5L47.4 461.7L46.4 460.9L47.6 461.2L48.7 461.4L49.9 461.7L51.2 462.2L52.5 462.7ZM59.9 483.8L58.8 484.5L57.7 485.3L56.5 484.7L55.3 484.2L54.2 483.6L55.8 482.1L57.3 482.3L58.8 482.5ZM52.7 516.9l1.6 -0.6l1.6 0.6l-1.6 0.5ZM48.5 517.5l1.6 -0.6l1.6 0.6l-1.6 0.5ZM42.7 519.5l1.6 -0.6l1.6 0.6l-1.6 0.5ZM36.5 521.4l1.6 -0.6l1.6 0.6l-1.6 0.5ZM31.2 522.1l1.6 -0.6l1.6 0.6l-1.6 0.5ZM24.4 522.4l1.6 -0.6l1.6 0.6l-1.6 0.5ZM18.4 522.2l1.6 -0.6l1.6 0.6l-1.6 0.5ZM12.4 521.9l1.6 -0.6l1.6 0.6l-1.6 0.5ZM6.6 520.8l1.6 -0.6l1.6 0.6l-1.6 0.5ZM0.9 519.7l1.6 -0.6l1.6 0.6l-1.6 0.5ZM-4.4 517.3l1.6 -0.6l1.6 0.6l-1.6 0.5ZM-9.6 514.9l1.6 -0.6l1.6 0.6l-1.6 0.5ZM-14.5 511.8l1.6 -0.6l1.6 0.6l-1.6 0.5ZM-19.0 508.1l1.6 -0.6l1.6 0.6l-1.6 0.5ZM-23.3 504.4l1.6 -0.6l1.6 0.6l-1.6 0.5ZM-26.2 501.8l1.6 -0.6l1.6 0.6l-1.6 0.5Z" fill="none" stroke="#666" stroke-width="0.35"/>
</svg>
<svg class="hi" width="110" height="146" viewBox="186 402 110 146">
<rect x="186" y="402" width="110" height="146" fill="#f4f4f4"/>
<path d="M209.5 447.0L212.5 445.8L215.5 446.8L216.0 450.0L213.0 452.8L209.8 451.5ZM202.5 452.0L204.2 450.3L204.5 452.2L203.0 453.8ZM230.5 456.5L233.5 455.6L236.0 458.5L239.0 461.5L237.0 463.0L233.0 461.0L231.0 459.0ZM243.5 463.5L247.0 463.0L251.5 464.0L250.0 465.8L245.0 465.5ZM247.5 467.5L249.5 467.0L250.5 469.0L248.5 470.0ZM252.5 467.0L255.0 466.0L257.0 468.0L260.0 468.5L263.0 471.0L261.0 473.5L257.5 472.5L254.5 471.0ZM252.8 473.5L254.5 473.2L254.8 474.8L253.0 475.0ZM263.0 479.0L266.0 478.5L270.0 481.0L276.0 486.0L280.0 492.0L276.0 497.0L271.0 501.0L268.0 499.0L266.5 494.0L263.0 491.0L262.8 485.0Z" fill="#fff" stroke="#777" stroke-width="0.5" stroke-linejoin="round"/>
</svg>
<svg class="leg" width="322" height="146" viewBox="298 402 322 146"><rect x="298" y="402" width="322" height="146" fill="#f4f4f4"/><text x="385.4" y="419.8" font-size="11.5" font-weight="bold" font-style="normal" fill="#333" text-anchor="start" textLength="61.7" lengthAdjust="spacingAndGlyphs">Probability</text><text x="449.9" y="419.8" font-size="11.5" font-weight="normal" font-style="normal" fill="#333" text-anchor="start" textLength="90.5" lengthAdjust="spacingAndGlyphs">(percent chance)</text><text x="344.9" y="438.2" font-size="10.75" font-weight="bold" font-style="normal" fill="#333" text-anchor="start" textLength="72.2" lengthAdjust="spacingAndGlyphs">Below Normal</text><text x="447.9" y="438.2" font-size="10.75" font-weight="bold" font-style="normal" fill="#333" text-anchor="start" textLength="22.9" lengthAdjust="spacingAndGlyphs">Near</text><text x="440.3" y="451" font-size="10.75" font-weight="bold" font-style="normal" fill="#333" text-anchor="start" textLength="37.7" lengthAdjust="spacingAndGlyphs">Normal</text><text x="505.1" y="437.9" font-size="10.75" font-weight="bold" font-style="normal" fill="#333" text-anchor="start" textLength="72.9" lengthAdjust="spacingAndGlyphs">Above Normal</text><text x="304.8" y="453.1" font-size="11.3" font-weight="normal" font-style="italic" fill="#8c8c8c" text-anchor="start" textLength="38.7" lengthAdjust="spacingAndGlyphs">Leaning</text><text x="309.7" y="467.2" font-size="11.3" font-weight="normal" font-style="italic" fill="#8c8c8c" text-anchor="start" textLength="30" lengthAdjust="spacingAndGlyphs">Below</text><text x="310" y="503.3" font-size="11.3" font-weight="normal" font-style="italic" fill="#8c8c8c" text-anchor="start" textLength="27.7" lengthAdjust="spacingAndGlyphs">Likely</text><text x="308.7" y="517.4" font-size="11.3" font-weight="normal" font-style="italic" fill="#8c8c8c" text-anchor="start" textLength="30" lengthAdjust="spacingAndGlyphs">Below</text><text x="575.9" y="453.3" font-size="11.3" font-weight="normal" font-style="italic" fill="#8c8c8c" text-anchor="start" textLength="39" lengthAdjust="spacingAndGlyphs">Leaning</text><text x="580.4" y="467" font-size="11.3" font-weight="normal" font-style="italic" fill="#8c8c8c" text-anchor="start" textLength="29.8" lengthAdjust="spacingAndGlyphs">Above</text><text x="580" y="503.6" font-size="11.3" font-weight="normal" font-style="italic" fill="#8c8c8c" text-anchor="start" textLength="27.7" lengthAdjust="spacingAndGlyphs">Likely</text><text x="579" y="517.3" font-size="11.3" font-weight="normal" font-style="italic" fill="#8c8c8c" text-anchor="start" textLength="29.3" lengthAdjust="spacingAndGlyphs">Above</text><rect x="356.10" y="445.90" width="16.80" height="7.9" fill="#d6eef7" stroke="#8a8a8a" stroke-width="1"/><text x="378" y="453.5" font-size="10.75" font-weight="normal" font-style="normal" fill="#333" text-anchor="start" textLength="39.1" lengthAdjust="spacingAndGlyphs">33–40%</text><rect x="549.10" y="445.90" width="16.00" height="7.9" fill="#fee8ad" stroke="#8a8a8a" stroke-width="1"/><text x="505.0" y="453.5" font-size="10.75" font-weight="normal" font-style="normal" fill="#333" text-anchor="start" textLength="39.1" lengthAdjust="spacingAndGlyphs">33–40%</text><rect x="356.10" y="459.93" width="16.80" height="7.9" fill="#acdcec" stroke="#8a8a8a" stroke-width="1"/><text x="378" y="467.53" font-size="10.75" font-weight="normal" font-style="normal" fill="#333" text-anchor="start" textLength="39.1" lengthAdjust="spacingAndGlyphs">40–50%</text><rect x="549.10" y="459.93" width="16.00" height="7.9" fill="#fdc97c" stroke="#8a8a8a" stroke-width="1"/><text x="505.0" y="467.53" font-size="10.75" font-weight="normal" font-style="normal" fill="#333" text-anchor="start" textLength="39.1" lengthAdjust="spacingAndGlyphs">40–50%</text><rect x="356.10" y="473.96" width="16.80" height="7.9" fill="#8fc7e0" stroke="#8a8a8a" stroke-width="1"/><text x="378" y="481.56" font-size="10.75" font-weight="normal" font-style="normal" fill="#333" text-anchor="start" textLength="39.1" lengthAdjust="spacingAndGlyphs">50–60%</text><rect x="549.10" y="473.96" width="16.00" height="7.9" fill="#fca459" stroke="#8a8a8a" stroke-width="1"/><text x="505.0" y="481.56" font-size="10.75" font-weight="normal" font-style="normal" fill="#333" text-anchor="start" textLength="39.1" lengthAdjust="spacingAndGlyphs">50–60%</text><rect x="356.10" y="487.99" width="16.80" height="7.9" fill="#6aaad6" stroke="#8a8a8a" stroke-width="1"/><text x="378" y="495.59" font-size="10.75" font-weight="normal" font-style="normal" fill="#333" text-anchor="start" textLength="39.1" lengthAdjust="spacingAndGlyphs">60–70%</text><rect x="549.10" y="487.99" width="16.00" height="7.9" fill="#f77b45" stroke="#8a8a8a" stroke-width="1"/><text x="505.0" y="495.59" font-size="10.75" font-weight="normal" font-style="normal" fill="#333" text-anchor="start" textLength="39.1" lengthAdjust="spacingAndGlyphs">60–70%</text><rect x="356.10" y="502.02" width="16.80" height="7.9" fill="#4a81c2" stroke="#8a8a8a" stroke-width="1"/><text x="378" y="509.62" font-size="10.75" font-weight="normal" font-style="normal" fill="#333" text-anchor="start" textLength="39.1" lengthAdjust="spacingAndGlyphs">70–80%</text><rect x="549.10" y="502.02" width="16.00" height="7.9" fill="#e5502e" stroke="#8a8a8a" stroke-width="1"/><text x="505.0" y="509.62" font-size="10.75" font-weight="normal" font-style="normal" fill="#333" text-anchor="start" textLength="39.1" lengthAdjust="spacingAndGlyphs">70–80%</text><rect x="356.10" y="516.05" width="16.80" height="7.9" fill="#3a5aab" stroke="#8a8a8a" stroke-width="1"/><text x="378" y="523.65" font-size="10.75" font-weight="normal" font-style="normal" fill="#333" text-anchor="start" textLength="39.1" lengthAdjust="spacingAndGlyphs">80–90%</text><rect x="549.10" y="516.05" width="16.00" height="7.9" fill="#cb2126" stroke="#8a8a8a" stroke-width="1"/><text x="505.0" y="523.65" font-size="10.75" font-weight="normal" font-style="normal" fill="#333" text-anchor="start" textLength="39.1" lengthAdjust="spacingAndGlyphs">80–90%</text><rect x="356.10" y="530.08" width="16.80" height="7.9" fill="#2b2d8e" stroke="#8a8a8a" stroke-width="1"/><text x="378" y="537.68" font-size="10.75" font-weight="normal" font-style="normal" fill="#333" text-anchor="start" textLength="46.0" lengthAdjust="spacingAndGlyphs">90–100%</text><rect x="549.10" y="530.08" width="16.00" height="7.9" fill="#a30b25" stroke="#8a8a8a" stroke-width="1"/><text x="498.1" y="537.68" font-size="10.75" font-weight="normal" font-style="normal" fill="#333" text-anchor="start" textLength="46.0" lengthAdjust="spacingAndGlyphs">90–100%</text><rect x="431.80" y="460.30" width="16.50" height="7.9" fill="#c3c3c3" stroke="#8a8a8a" stroke-width="1"/><text x="452" y="467.5" font-size="10.75" font-weight="normal" font-style="normal" fill="#333" text-anchor="start" textLength="39.5" lengthAdjust="spacingAndGlyphs">33–40%</text><rect x="431.80" y="474.40" width="16.50" height="7.9" fill="#a0a0a0" stroke="#8a8a8a" stroke-width="1"/><text x="452" y="481.5" font-size="10.75" font-weight="normal" font-style="normal" fill="#333" text-anchor="start" textLength="39.5" lengthAdjust="spacingAndGlyphs">40–50%</text><text x="446.9" y="502.2" font-size="10.75" font-weight="bold" font-style="normal" fill="#333" text-anchor="start" textLength="29" lengthAdjust="spacingAndGlyphs">Equal</text><text x="439.8" y="515" font-size="10.75" font-weight="bold" font-style="normal" fill="#333" text-anchor="start" textLength="42.7" lengthAdjust="spacingAndGlyphs">Chances</text><rect x="452.90" y="522.40" width="16.50" height="7.9" fill="#ffffff" stroke="#8a8a8a" stroke-width="1"/><path d="M352.3 445.9H348.4V468.0H352.3" fill="none" stroke="#a8a8a8" stroke-width="0.9"/><path d="M352.3 473.5H348.4V539.1H352.3" fill="none" stroke="#a8a8a8" stroke-width="0.9"/><path d="M568.3 445.5H573.2V468.5H568.3" fill="none" stroke="#a8a8a8" stroke-width="0.9"/><path d="M568.3 473.8H573.2V538.8H568.3" fill="none" stroke="#a8a8a8" stroke-width="0.9"/></svg>
<svg class="foot" width="620" height="37" viewBox="0 548 620 37"><text x="2.5" y="558.6" font-size="10.6" fill="#808080" textLength="108.6" lengthAdjust="spacingAndGlyphs">Temperature Outlook</text><text x="2.5" y="569.7" font-size="10.6" fill="#808080" textLength="78.2" lengthAdjust="spacingAndGlyphs">for August 2014</text><text x="2.5" y="580.2" font-size="10.6" fill="#808080" textLength="89.7" lengthAdjust="spacingAndGlyphs">Issued 31 Jul 2014</text><text x="462.5" y="558.8" font-size="10.6" fill="#808080" textLength="154.3" lengthAdjust="spacingAndGlyphs">NWS Climate Prediction Center</text><text x="462.5" y="569.5" font-size="10.6" fill="#808080" textLength="130.9" lengthAdjust="spacingAndGlyphs">Map by NOAA Climate.gov</text></svg>
</body></html>
